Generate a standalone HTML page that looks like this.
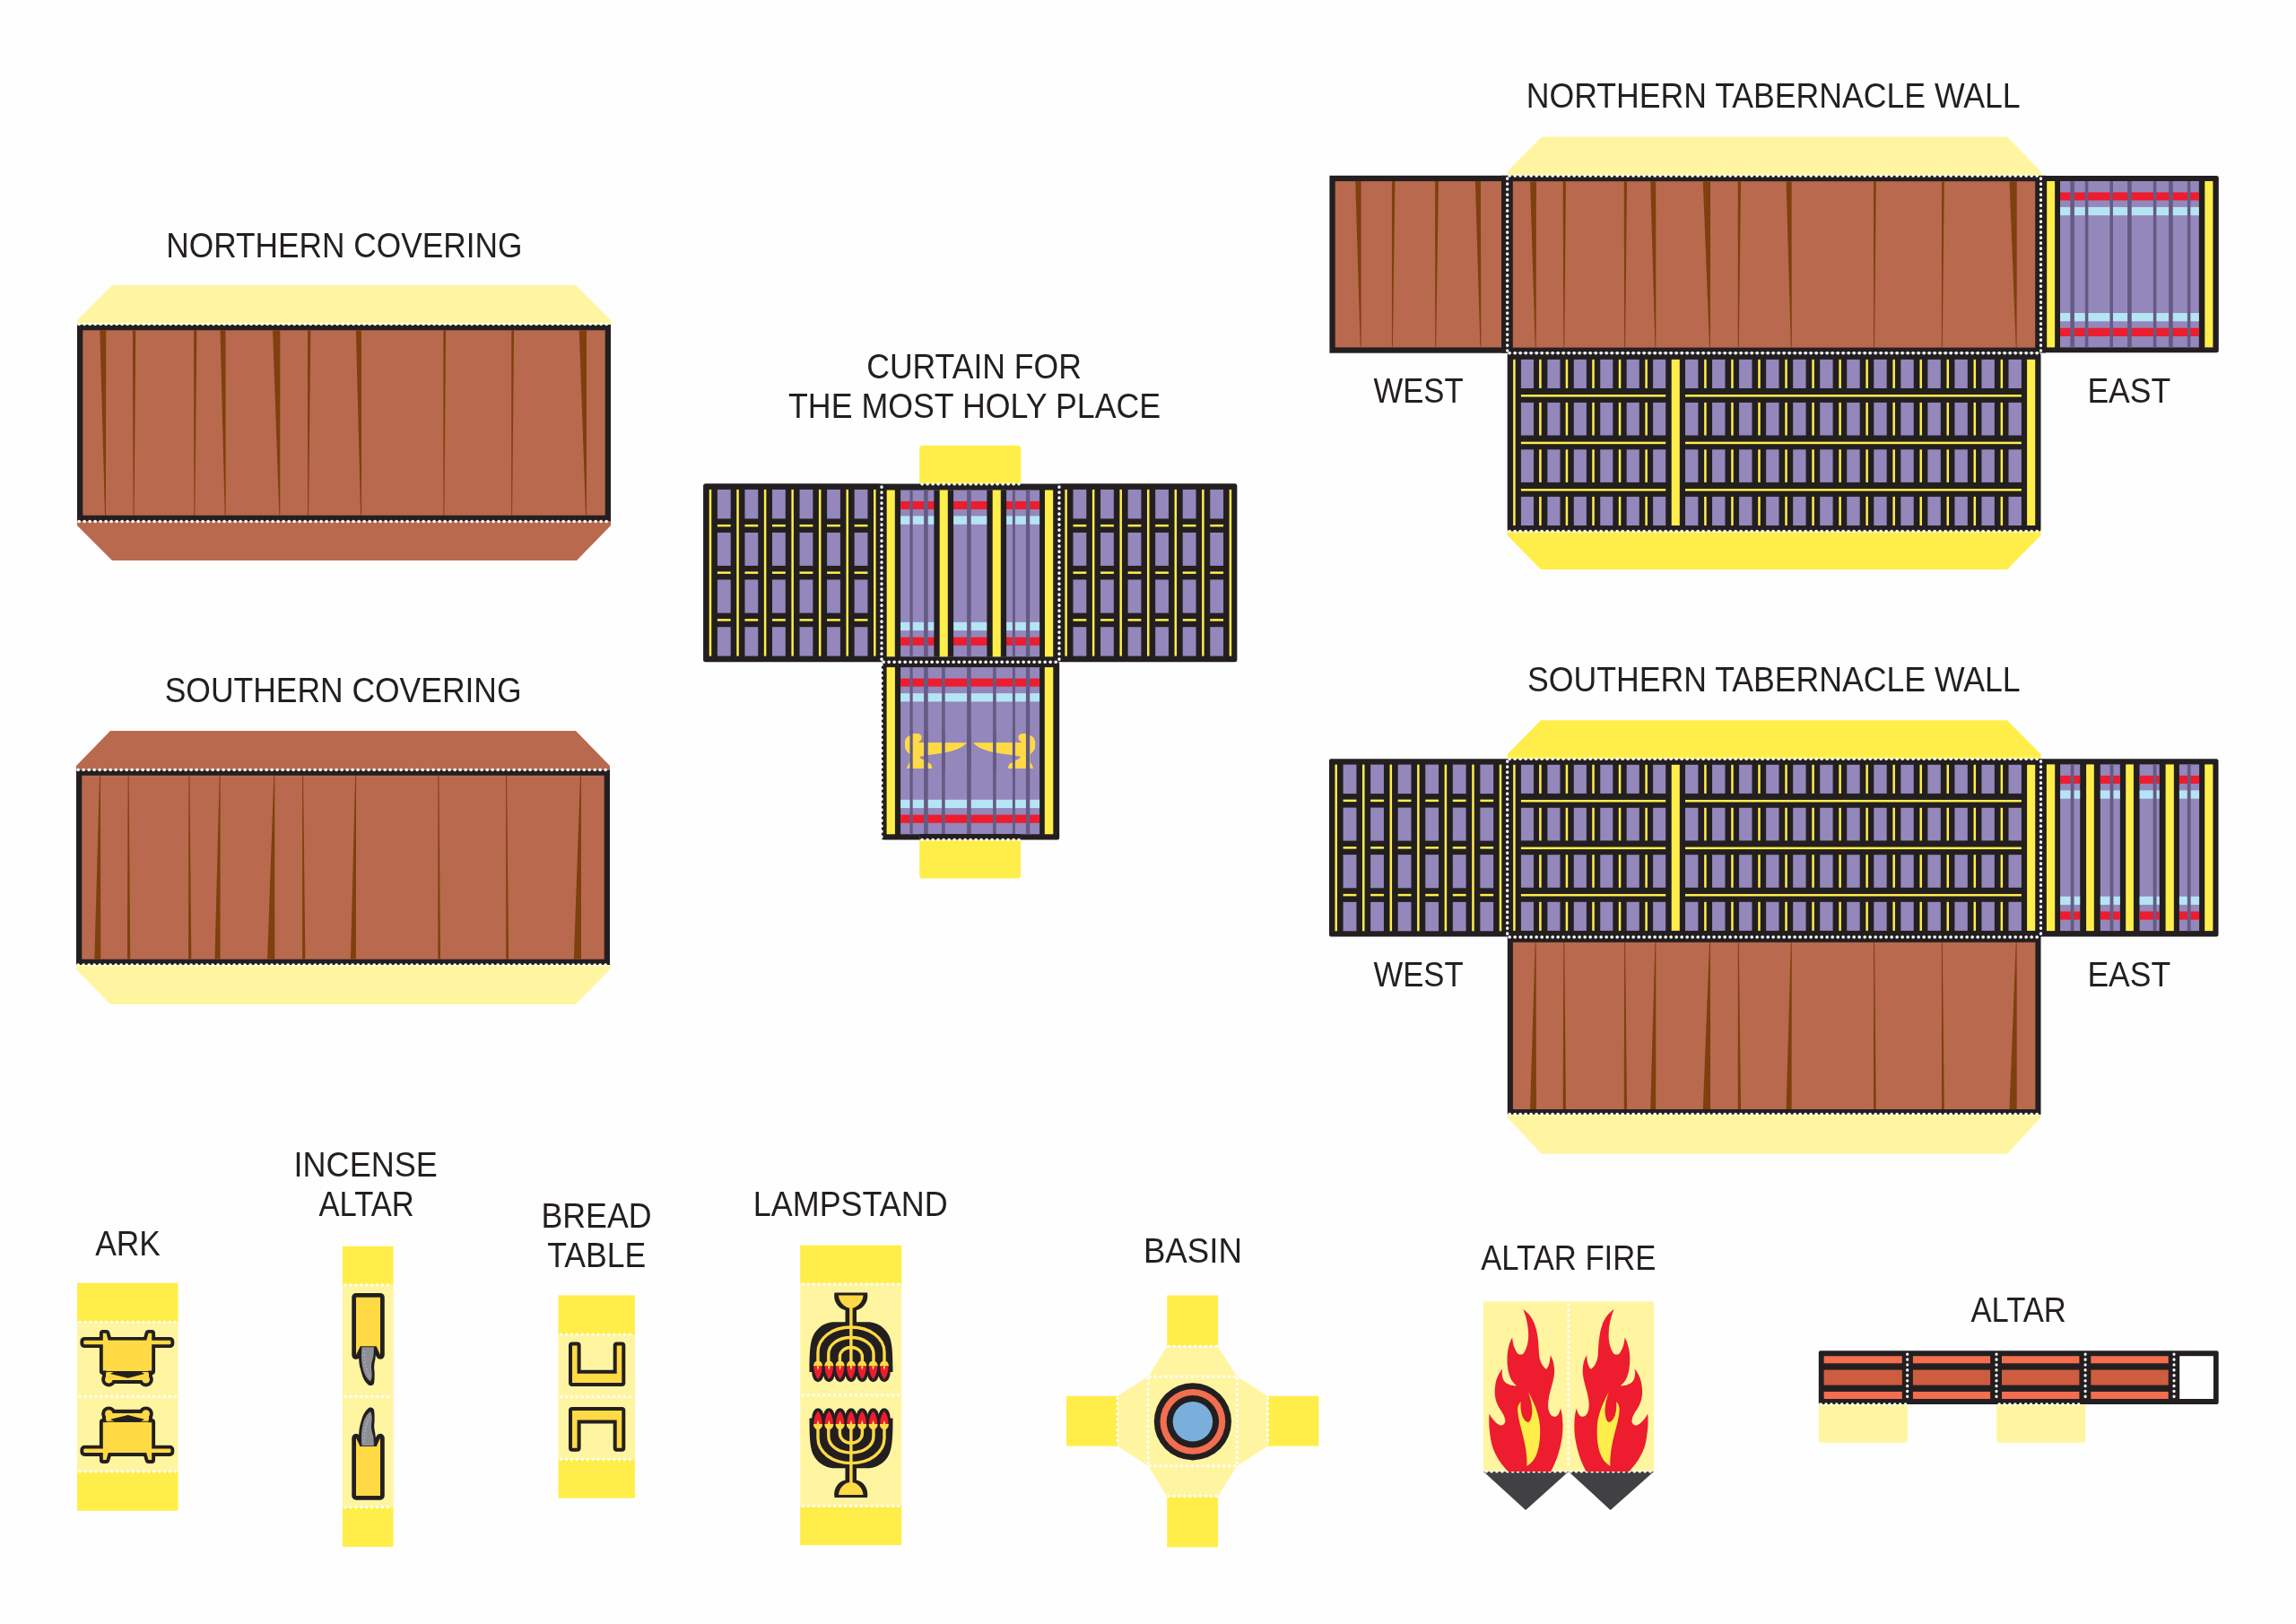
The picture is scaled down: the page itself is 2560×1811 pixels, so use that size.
<!DOCTYPE html>
<html><head><meta charset="utf-8"><style>
html,body{margin:0;padding:0;background:#fefefe;}
svg{display:block;}
text{font-family:"Liberation Sans",sans-serif;fill:#231f20;}
svg{will-change:transform;}
</style></head><body>
<svg width="2560" height="1811" viewBox="0 0 2560 1811">
<rect x="0" y="0" width="2560" height="1811" fill="#fefefe"/>
<text transform="translate(185.21,286.7) scale(0.9268,1)" font-size="38.08">NORTHERN COVERING</text>
<polygon points="86,362 86,357 125,318 642,318 681,357 681,362" fill="#fff5a1"/>
<polygon points="86,581 86,586 125,625 643,625 681,586 681,581" fill="#b8694e"/>
<rect x="86" y="362" width="595" height="219" fill="#231f20"/>
<rect x="92.3" y="368.3" width="582.4" height="206.4" fill="#b8694e"/>
<polygon points="111.35,368.3 118.25,368.3 117.95,574.7 117.05,574.7" fill="#7e400e"/>
<polygon points="147.95,368.3 151.25,368.3 149.55,574.7 148.65,574.7" fill="#7e400e"/>
<polygon points="216.05,368.3 219.35,368.3 217.35,574.7 216.45,574.7" fill="#7e400e"/>
<polygon points="245.5,368.3 251.5,368.3 251.65,574.7 250.75,574.7" fill="#7e400e"/>
<polygon points="304.1,368.3 312.3,368.3 312.25,574.7 311.35,574.7" fill="#7e400e"/>
<polygon points="343.05,368.3 346.35,368.3 344.05,574.7 343.15,574.7" fill="#7e400e"/>
<polygon points="396.9,368.3 402.9,368.3 403.05,574.7 402.15,574.7" fill="#7e400e"/>
<polygon points="494.35,368.3 497.05,368.3 495.35,574.7 494.45,574.7" fill="#7e400e"/>
<polygon points="570.35,368.3 573.05,368.3 571.05,574.7 570.15,574.7" fill="#7e400e"/>
<polygon points="645.8,368.3 654,368.3 653.95,574.7 653.05,574.7" fill="#7e400e"/>
<line x1="88" y1="361.5" x2="680" y2="361.5" stroke="#fff" stroke-width="3.4" stroke-linecap="round" stroke-dasharray="0.3 5.7"/>
<line x1="88" y1="581.5" x2="680" y2="581.5" stroke="#fff" stroke-width="3.4" stroke-linecap="round" stroke-dasharray="0.3 5.7"/>
<text transform="translate(183.7,783) scale(0.9311,1)" font-size="38.08">SOUTHERN COVERING</text>
<polygon points="85,858.5 85,854 123,815 642,815 680,854 680,858.5" fill="#b8694e"/>
<polygon points="85,1076 85,1081 123,1120 642,1120 680,1081 680,1076" fill="#fff5a1"/>
<rect x="85" y="858.5" width="595" height="217.5" fill="#231f20"/>
<rect x="91.3" y="864.8" width="582.4" height="204.9" fill="#b8694e"/>
<polygon points="105.35,1069.7 112.25,1069.7 111.95,864.8 111.05,864.8" fill="#7e400e"/>
<polygon points="141.95,1069.7 145.25,1069.7 143.55,864.8 142.65,864.8" fill="#7e400e"/>
<polygon points="210.05,1069.7 213.35,1069.7 211.35,864.8 210.45,864.8" fill="#7e400e"/>
<polygon points="239.5,1069.7 245.5,1069.7 245.65,864.8 244.75,864.8" fill="#7e400e"/>
<polygon points="298.1,1069.7 306.3,1069.7 306.25,864.8 305.35,864.8" fill="#7e400e"/>
<polygon points="337.05,1069.7 340.35,1069.7 338.05,864.8 337.15,864.8" fill="#7e400e"/>
<polygon points="390.9,1069.7 396.9,1069.7 397.05,864.8 396.15,864.8" fill="#7e400e"/>
<polygon points="488.35,1069.7 491.05,1069.7 489.35,864.8 488.45,864.8" fill="#7e400e"/>
<polygon points="564.35,1069.7 567.05,1069.7 565.05,864.8 564.15,864.8" fill="#7e400e"/>
<polygon points="639.8,1069.7 648,1069.7 647.95,864.8 647.05,864.8" fill="#7e400e"/>
<line x1="87" y1="858.5" x2="679" y2="858.5" stroke="#fff" stroke-width="3.4" stroke-linecap="round" stroke-dasharray="0.3 5.7"/>
<line x1="87" y1="1076" x2="679" y2="1076" stroke="#fff" stroke-width="3.4" stroke-linecap="round" stroke-dasharray="0.3 5.7"/>
<text transform="translate(966.22,421.6) scale(0.9342,1)" font-size="38.08">CURTAIN FOR</text>
<text transform="translate(879.01,465.5) scale(0.9390,1)" font-size="38.08">THE MOST HOLY PLACE</text>
<rect x="1025.2" y="496.8" width="113.1" height="48.2" fill="#ffee4a" rx="3.5"/>
<rect x="784.3" y="539.6" width="594.9" height="198.7" fill="#231f20" rx="2.5"/>
<rect x="784.3" y="539.6" width="198.3" height="198.3" fill="#231f20" rx="2"/>
<rect x="799.9" y="545.9" width="14.8" height="32.5" fill="#9387bb"/>
<rect x="799.9" y="593.9" width="14.8" height="37" fill="#9387bb"/>
<rect x="799.9" y="646.4" width="14.8" height="37.2" fill="#9387bb"/>
<rect x="799.9" y="699.2" width="14.8" height="32.4" fill="#9387bb"/>
<rect x="799.9" y="584.9" width="14.8" height="2.5" fill="#ffee4a"/>
<rect x="799.9" y="637.4" width="14.8" height="2.5" fill="#ffee4a"/>
<rect x="799.9" y="690.15" width="14.8" height="2.5" fill="#ffee4a"/>
<rect x="830.45" y="545.9" width="14.8" height="32.5" fill="#9387bb"/>
<rect x="830.45" y="593.9" width="14.8" height="37" fill="#9387bb"/>
<rect x="830.45" y="646.4" width="14.8" height="37.2" fill="#9387bb"/>
<rect x="830.45" y="699.2" width="14.8" height="32.4" fill="#9387bb"/>
<rect x="830.45" y="584.9" width="14.8" height="2.5" fill="#ffee4a"/>
<rect x="830.45" y="637.4" width="14.8" height="2.5" fill="#ffee4a"/>
<rect x="830.45" y="690.15" width="14.8" height="2.5" fill="#ffee4a"/>
<rect x="861" y="545.9" width="14.8" height="32.5" fill="#9387bb"/>
<rect x="861" y="593.9" width="14.8" height="37" fill="#9387bb"/>
<rect x="861" y="646.4" width="14.8" height="37.2" fill="#9387bb"/>
<rect x="861" y="699.2" width="14.8" height="32.4" fill="#9387bb"/>
<rect x="861" y="584.9" width="14.8" height="2.5" fill="#ffee4a"/>
<rect x="861" y="637.4" width="14.8" height="2.5" fill="#ffee4a"/>
<rect x="861" y="690.15" width="14.8" height="2.5" fill="#ffee4a"/>
<rect x="891.55" y="545.9" width="14.8" height="32.5" fill="#9387bb"/>
<rect x="891.55" y="593.9" width="14.8" height="37" fill="#9387bb"/>
<rect x="891.55" y="646.4" width="14.8" height="37.2" fill="#9387bb"/>
<rect x="891.55" y="699.2" width="14.8" height="32.4" fill="#9387bb"/>
<rect x="891.55" y="584.9" width="14.8" height="2.5" fill="#ffee4a"/>
<rect x="891.55" y="637.4" width="14.8" height="2.5" fill="#ffee4a"/>
<rect x="891.55" y="690.15" width="14.8" height="2.5" fill="#ffee4a"/>
<rect x="922.1" y="545.9" width="14.8" height="32.5" fill="#9387bb"/>
<rect x="922.1" y="593.9" width="14.8" height="37" fill="#9387bb"/>
<rect x="922.1" y="646.4" width="14.8" height="37.2" fill="#9387bb"/>
<rect x="922.1" y="699.2" width="14.8" height="32.4" fill="#9387bb"/>
<rect x="922.1" y="584.9" width="14.8" height="2.5" fill="#ffee4a"/>
<rect x="922.1" y="637.4" width="14.8" height="2.5" fill="#ffee4a"/>
<rect x="922.1" y="690.15" width="14.8" height="2.5" fill="#ffee4a"/>
<rect x="952.65" y="545.9" width="14.8" height="32.5" fill="#9387bb"/>
<rect x="952.65" y="593.9" width="14.8" height="37" fill="#9387bb"/>
<rect x="952.65" y="646.4" width="14.8" height="37.2" fill="#9387bb"/>
<rect x="952.65" y="699.2" width="14.8" height="32.4" fill="#9387bb"/>
<rect x="952.65" y="584.9" width="14.8" height="2.5" fill="#ffee4a"/>
<rect x="952.65" y="637.4" width="14.8" height="2.5" fill="#ffee4a"/>
<rect x="952.65" y="690.15" width="14.8" height="2.5" fill="#ffee4a"/>
<rect x="790.75" y="545.9" width="2.5" height="185.7" fill="#ffee4a"/>
<rect x="821.3" y="545.9" width="2.5" height="185.7" fill="#ffee4a"/>
<rect x="851.85" y="545.9" width="2.5" height="185.7" fill="#ffee4a"/>
<rect x="882.4" y="545.9" width="2.5" height="185.7" fill="#ffee4a"/>
<rect x="912.95" y="545.9" width="2.5" height="185.7" fill="#ffee4a"/>
<rect x="943.5" y="545.9" width="2.5" height="185.7" fill="#ffee4a"/>
<rect x="974.05" y="545.9" width="2.5" height="185.7" fill="#ffee4a"/>
<rect x="1180.9" y="539.6" width="198.3" height="198.3" fill="#231f20" rx="2"/>
<rect x="1196.5" y="545.9" width="14.8" height="32.5" fill="#9387bb"/>
<rect x="1196.5" y="593.9" width="14.8" height="37" fill="#9387bb"/>
<rect x="1196.5" y="646.4" width="14.8" height="37.2" fill="#9387bb"/>
<rect x="1196.5" y="699.2" width="14.8" height="32.4" fill="#9387bb"/>
<rect x="1196.5" y="584.9" width="14.8" height="2.5" fill="#ffee4a"/>
<rect x="1196.5" y="637.4" width="14.8" height="2.5" fill="#ffee4a"/>
<rect x="1196.5" y="690.15" width="14.8" height="2.5" fill="#ffee4a"/>
<rect x="1227.05" y="545.9" width="14.8" height="32.5" fill="#9387bb"/>
<rect x="1227.05" y="593.9" width="14.8" height="37" fill="#9387bb"/>
<rect x="1227.05" y="646.4" width="14.8" height="37.2" fill="#9387bb"/>
<rect x="1227.05" y="699.2" width="14.8" height="32.4" fill="#9387bb"/>
<rect x="1227.05" y="584.9" width="14.8" height="2.5" fill="#ffee4a"/>
<rect x="1227.05" y="637.4" width="14.8" height="2.5" fill="#ffee4a"/>
<rect x="1227.05" y="690.15" width="14.8" height="2.5" fill="#ffee4a"/>
<rect x="1257.6" y="545.9" width="14.8" height="32.5" fill="#9387bb"/>
<rect x="1257.6" y="593.9" width="14.8" height="37" fill="#9387bb"/>
<rect x="1257.6" y="646.4" width="14.8" height="37.2" fill="#9387bb"/>
<rect x="1257.6" y="699.2" width="14.8" height="32.4" fill="#9387bb"/>
<rect x="1257.6" y="584.9" width="14.8" height="2.5" fill="#ffee4a"/>
<rect x="1257.6" y="637.4" width="14.8" height="2.5" fill="#ffee4a"/>
<rect x="1257.6" y="690.15" width="14.8" height="2.5" fill="#ffee4a"/>
<rect x="1288.15" y="545.9" width="14.8" height="32.5" fill="#9387bb"/>
<rect x="1288.15" y="593.9" width="14.8" height="37" fill="#9387bb"/>
<rect x="1288.15" y="646.4" width="14.8" height="37.2" fill="#9387bb"/>
<rect x="1288.15" y="699.2" width="14.8" height="32.4" fill="#9387bb"/>
<rect x="1288.15" y="584.9" width="14.8" height="2.5" fill="#ffee4a"/>
<rect x="1288.15" y="637.4" width="14.8" height="2.5" fill="#ffee4a"/>
<rect x="1288.15" y="690.15" width="14.8" height="2.5" fill="#ffee4a"/>
<rect x="1318.7" y="545.9" width="14.8" height="32.5" fill="#9387bb"/>
<rect x="1318.7" y="593.9" width="14.8" height="37" fill="#9387bb"/>
<rect x="1318.7" y="646.4" width="14.8" height="37.2" fill="#9387bb"/>
<rect x="1318.7" y="699.2" width="14.8" height="32.4" fill="#9387bb"/>
<rect x="1318.7" y="584.9" width="14.8" height="2.5" fill="#ffee4a"/>
<rect x="1318.7" y="637.4" width="14.8" height="2.5" fill="#ffee4a"/>
<rect x="1318.7" y="690.15" width="14.8" height="2.5" fill="#ffee4a"/>
<rect x="1349.25" y="545.9" width="14.8" height="32.5" fill="#9387bb"/>
<rect x="1349.25" y="593.9" width="14.8" height="37" fill="#9387bb"/>
<rect x="1349.25" y="646.4" width="14.8" height="37.2" fill="#9387bb"/>
<rect x="1349.25" y="699.2" width="14.8" height="32.4" fill="#9387bb"/>
<rect x="1349.25" y="584.9" width="14.8" height="2.5" fill="#ffee4a"/>
<rect x="1349.25" y="637.4" width="14.8" height="2.5" fill="#ffee4a"/>
<rect x="1349.25" y="690.15" width="14.8" height="2.5" fill="#ffee4a"/>
<rect x="1187.35" y="545.9" width="2.5" height="185.7" fill="#ffee4a"/>
<rect x="1217.9" y="545.9" width="2.5" height="185.7" fill="#ffee4a"/>
<rect x="1248.45" y="545.9" width="2.5" height="185.7" fill="#ffee4a"/>
<rect x="1279" y="545.9" width="2.5" height="185.7" fill="#ffee4a"/>
<rect x="1309.55" y="545.9" width="2.5" height="185.7" fill="#ffee4a"/>
<rect x="1340.1" y="545.9" width="2.5" height="185.7" fill="#ffee4a"/>
<rect x="1370.65" y="545.9" width="2.5" height="185.7" fill="#ffee4a"/>
<rect x="1004.1" y="546.5" width="155" height="185.8" fill="#9387bb"/>
<rect x="1004.1" y="558.99" width="155" height="8.99" fill="#ed1c2e"/>
<rect x="1004.1" y="575.47" width="155" height="9.29" fill="#b5e4f5"/>
<rect x="1004.1" y="693.84" width="155" height="9.29" fill="#b5e4f5"/>
<rect x="1004.1" y="710.62" width="155" height="9.19" fill="#ed1c2e"/>
<rect x="1014.5" y="546.5" width="3.2" height="185.8" fill="#655a82"/>
<rect x="1030.1" y="546.5" width="4.6" height="185.8" fill="#655a82"/>
<rect x="1050.1" y="546.5" width="3.6" height="185.8" fill="#655a82"/>
<rect x="1078.1" y="546.5" width="4.6" height="185.8" fill="#655a82"/>
<rect x="1107.1" y="546.5" width="3.6" height="185.8" fill="#655a82"/>
<rect x="1128.9" y="546.5" width="3" height="185.8" fill="#655a82"/>
<rect x="1143.95" y="546.5" width="4.3" height="185.8" fill="#655a82"/>
<rect x="988.7" y="546.5" width="9.1" height="185.8" fill="#ffee4a"/>
<rect x="1041.4" y="546.5" width="21.7" height="185.8" fill="#231f20"/>
<rect x="1047.7" y="546.5" width="9.1" height="185.8" fill="#ffee4a"/>
<rect x="1100.4" y="546.5" width="21.7" height="185.8" fill="#231f20"/>
<rect x="1106.7" y="546.5" width="9.1" height="185.8" fill="#ffee4a"/>
<rect x="1165" y="546.5" width="9.2" height="185.8" fill="#ffee4a"/>
<rect x="982.9" y="738" width="198.3" height="198.4" fill="#231f20" rx="2.5"/>
<rect x="988.6" y="744.1" width="9.3" height="186.2" fill="#ffee4a"/>
<rect x="1164.8" y="744.1" width="9.5" height="186.2" fill="#ffee4a"/>
<rect x="1004.1" y="744.1" width="155" height="186.2" fill="#9387bb"/>
<rect x="1004.1" y="756.61" width="155" height="9.01" fill="#ed1c2e"/>
<rect x="1004.1" y="773.13" width="155" height="9.31" fill="#b5e4f5"/>
<rect x="1004.1" y="891.76" width="155" height="9.31" fill="#b5e4f5"/>
<rect x="1004.1" y="908.58" width="155" height="9.21" fill="#ed1c2e"/>
<rect x="1014.5" y="744.1" width="3.2" height="186.2" fill="#655a82"/>
<rect x="1030.1" y="744.1" width="4.6" height="186.2" fill="#655a82"/>
<rect x="1050.1" y="744.1" width="3.6" height="186.2" fill="#655a82"/>
<rect x="1078.1" y="744.1" width="4.6" height="186.2" fill="#655a82"/>
<rect x="1107.1" y="744.1" width="3.6" height="186.2" fill="#655a82"/>
<rect x="1128.9" y="744.1" width="3" height="186.2" fill="#655a82"/>
<rect x="1143.95" y="744.1" width="4.3" height="186.2" fill="#655a82"/>
<rect x="1025.2" y="930" width="112.9" height="49.5" fill="#ffee4a" rx="3.5"/>
<rect x="1025.2" y="930" width="112.9" height="6.4" fill="#231f20"/>
<path d="M1009,827.2 C1009.5,823 1011.5,821.5 1013.7,820.8 L1015,819.5 C1016,818.3 1017,818 1019,818 L1023.5,818 C1026.5,818.3 1027.8,820.5 1027.7,822.6 C1027.6,824.6 1026.8,825.8 1025.6,826.6 L1023.7,827.9 L1078,828.3 C1074,833.5 1066,836.5 1057,838.5 C1049,840.2 1040,841.4 1034.5,842 L1026.6,843.5 C1025.2,844.2 1025.3,845.2 1026.5,845.8 L1029.8,847.4 L1034.5,850.2 C1038,851.2 1039.3,853.5 1039.2,857.1 L1011.1,857.1 C1011.8,854 1012.8,851.5 1014.4,850.2 L1014.4,840.9 C1011.5,838.5 1009.2,836 1009,833.7 Z" fill="#ffda45"/>
<path d="M1009,827.2 C1009.5,823 1011.5,821.5 1013.7,820.8 L1015,819.5 C1016,818.3 1017,818 1019,818 L1023.5,818 C1026.5,818.3 1027.8,820.5 1027.7,822.6 C1027.6,824.6 1026.8,825.8 1025.6,826.6 L1023.7,827.9 L1078,828.3 C1074,833.5 1066,836.5 1057,838.5 C1049,840.2 1040,841.4 1034.5,842 L1026.6,843.5 C1025.2,844.2 1025.3,845.2 1026.5,845.8 L1029.8,847.4 L1034.5,850.2 C1038,851.2 1039.3,853.5 1039.2,857.1 L1011.1,857.1 C1011.8,854 1012.8,851.5 1014.4,850.2 L1014.4,840.9 C1011.5,838.5 1009.2,836 1009,833.7 Z" fill="#ffda45" transform="translate(2163.2,0) scale(-1,1)"/>
<rect x="1014.5" y="815" width="3.2" height="45" fill="#655a82"/>
<rect x="1030.1" y="815" width="4.6" height="45" fill="#655a82"/>
<rect x="1050.1" y="815" width="3.6" height="45" fill="#655a82"/>
<rect x="1078.1" y="815" width="4.6" height="45" fill="#655a82"/>
<rect x="1107.1" y="815" width="3.6" height="45" fill="#655a82"/>
<rect x="1128.9" y="815" width="3" height="45" fill="#655a82"/>
<rect x="1143.95" y="815" width="4.3" height="45" fill="#655a82"/>
<line x1="983" y1="543" x2="983" y2="936" stroke="#fff" stroke-width="3.4" stroke-linecap="round" stroke-dasharray="0.3 5.7"/>
<line x1="1181" y1="543" x2="1181" y2="736" stroke="#fff" stroke-width="3.4" stroke-linecap="round" stroke-dasharray="0.3 5.7"/>
<line x1="985" y1="738.3" x2="1179" y2="738.3" stroke="#fff" stroke-width="3.4" stroke-linecap="round" stroke-dasharray="0.3 5.7"/>
<line x1="1028" y1="539.8" x2="1136" y2="539.8" stroke="#fff" stroke-width="3.4" stroke-linecap="round" stroke-dasharray="0.3 5.7"/>
<line x1="1028" y1="936.4" x2="1136" y2="936.4" stroke="#fff" stroke-width="3.4" stroke-linecap="round" stroke-dasharray="0.3 5.7"/>
<text transform="translate(1701.78,120) scale(0.9359,1)" font-size="38.08">NORTHERN TABERNACLE WALL</text>
<polygon points="1680.7,197 1680.7,191 1719,152.5 2238,152.5 2275.5,191 2275.5,197" fill="#fff5a1"/>
<polygon points="1680.7,590 1680.7,597 1718,635 2238,635 2275.5,597 2275.5,590" fill="#ffee4a"/>
<rect x="1482.4" y="195.8" width="204.6" height="197.9" fill="#231f20"/>
<rect x="1488.7" y="202.1" width="192" height="185.3" fill="#b8694e"/>
<polygon points="1511.25,202.1 1517.55,202.1 1517.65,387.4 1516.75,387.4" fill="#7e400e"/>
<polygon points="1551.95,202.1 1555.45,202.1 1552.85,387.4 1551.95,387.4" fill="#7e400e"/>
<polygon points="1600.1,202.1 1603.9,202.1 1601.15,387.4 1600.25,387.4" fill="#7e400e"/>
<polygon points="1644.9,202.1 1650.9,202.1 1651.35,387.4 1650.45,387.4" fill="#7e400e"/>
<rect x="1674" y="195.8" width="607" height="197.7" fill="#231f20"/>
<rect x="1686.8" y="202.2" width="582.4" height="185.4" fill="#b8694e"/>
<polygon points="1706.05,202.2 1712.95,202.2 1712.65,387.6 1711.75,387.6" fill="#7e400e"/>
<polygon points="1742.65,202.2 1745.95,202.2 1744.25,387.6 1743.35,387.6" fill="#7e400e"/>
<polygon points="1810.75,202.2 1814.05,202.2 1812.05,387.6 1811.15,387.6" fill="#7e400e"/>
<polygon points="1840.2,202.2 1846.2,202.2 1846.35,387.6 1845.45,387.6" fill="#7e400e"/>
<polygon points="1898.8,202.2 1907,202.2 1906.95,387.6 1906.05,387.6" fill="#7e400e"/>
<polygon points="1937.75,202.2 1941.05,202.2 1938.75,387.6 1937.85,387.6" fill="#7e400e"/>
<polygon points="1991.6,202.2 1997.6,202.2 1997.75,387.6 1996.85,387.6" fill="#7e400e"/>
<polygon points="2089.05,202.2 2091.75,202.2 2090.05,387.6 2089.15,387.6" fill="#7e400e"/>
<polygon points="2165.05,202.2 2167.75,202.2 2165.75,387.6 2164.85,387.6" fill="#7e400e"/>
<polygon points="2240.5,202.2 2248.7,202.2 2248.65,387.6 2247.75,387.6" fill="#7e400e"/>
<rect x="2275" y="196" width="198.8" height="197.3" fill="#231f20" rx="2.5"/>
<rect x="2282.2" y="202" width="8.9" height="185.4" fill="#ffee4a"/>
<rect x="2458.3" y="202" width="9.1" height="185.4" fill="#ffee4a"/>
<rect x="2297" y="202" width="154.8" height="185.4" fill="#9387bb"/>
<rect x="2297" y="214.46" width="154.8" height="8.97" fill="#ed1c2e"/>
<rect x="2297" y="230.91" width="154.8" height="9.27" fill="#b5e4f5"/>
<rect x="2297" y="349.02" width="154.8" height="9.27" fill="#b5e4f5"/>
<rect x="2297" y="365.77" width="154.8" height="9.17" fill="#ed1c2e"/>
<rect x="2308.3" y="202" width="4.6" height="185.4" fill="#655a82"/>
<rect x="2324.85" y="202" width="3.5" height="185.4" fill="#655a82"/>
<rect x="2352.45" y="202" width="3.5" height="185.4" fill="#655a82"/>
<rect x="2372.1" y="202" width="4.6" height="185.4" fill="#655a82"/>
<rect x="2400.85" y="202" width="3.5" height="185.4" fill="#655a82"/>
<rect x="2418.1" y="202" width="4.6" height="185.4" fill="#655a82"/>
<rect x="2438.85" y="202" width="3.5" height="185.4" fill="#655a82"/>
<rect x="1680.7" y="393.5" width="594.8" height="199" fill="#231f20" rx="2.5"/>
<rect x="1687.15" y="400.9" width="2.5" height="185.1" fill="#ffee4a"/>
<rect x="1695.9" y="400.9" width="14.1" height="32.1" fill="#9387bb"/>
<rect x="1695.9" y="448.9" width="14.1" height="36.6" fill="#9387bb"/>
<rect x="1695.9" y="501.3" width="14.1" height="36.6" fill="#9387bb"/>
<rect x="1695.9" y="553.9" width="14.1" height="32.1" fill="#9387bb"/>
<rect x="1725.34" y="400.9" width="14.1" height="32.1" fill="#9387bb"/>
<rect x="1725.34" y="448.9" width="14.1" height="36.6" fill="#9387bb"/>
<rect x="1725.34" y="501.3" width="14.1" height="36.6" fill="#9387bb"/>
<rect x="1725.34" y="553.9" width="14.1" height="32.1" fill="#9387bb"/>
<rect x="1754.78" y="400.9" width="14.1" height="32.1" fill="#9387bb"/>
<rect x="1754.78" y="448.9" width="14.1" height="36.6" fill="#9387bb"/>
<rect x="1754.78" y="501.3" width="14.1" height="36.6" fill="#9387bb"/>
<rect x="1754.78" y="553.9" width="14.1" height="32.1" fill="#9387bb"/>
<rect x="1784.22" y="400.9" width="14.1" height="32.1" fill="#9387bb"/>
<rect x="1784.22" y="448.9" width="14.1" height="36.6" fill="#9387bb"/>
<rect x="1784.22" y="501.3" width="14.1" height="36.6" fill="#9387bb"/>
<rect x="1784.22" y="553.9" width="14.1" height="32.1" fill="#9387bb"/>
<rect x="1813.66" y="400.9" width="14.1" height="32.1" fill="#9387bb"/>
<rect x="1813.66" y="448.9" width="14.1" height="36.6" fill="#9387bb"/>
<rect x="1813.66" y="501.3" width="14.1" height="36.6" fill="#9387bb"/>
<rect x="1813.66" y="553.9" width="14.1" height="32.1" fill="#9387bb"/>
<rect x="1843.1" y="400.9" width="14.1" height="32.1" fill="#9387bb"/>
<rect x="1843.1" y="448.9" width="14.1" height="36.6" fill="#9387bb"/>
<rect x="1843.1" y="501.3" width="14.1" height="36.6" fill="#9387bb"/>
<rect x="1843.1" y="553.9" width="14.1" height="32.1" fill="#9387bb"/>
<rect x="1716.15" y="400.9" width="2.5" height="32.1" fill="#ffee4a"/>
<rect x="1716.15" y="448.9" width="2.5" height="36.6" fill="#ffee4a"/>
<rect x="1716.15" y="501.3" width="2.5" height="36.6" fill="#ffee4a"/>
<rect x="1716.15" y="553.9" width="2.5" height="32.1" fill="#ffee4a"/>
<rect x="1745.7" y="400.9" width="2.5" height="32.1" fill="#ffee4a"/>
<rect x="1745.7" y="448.9" width="2.5" height="36.6" fill="#ffee4a"/>
<rect x="1745.7" y="501.3" width="2.5" height="36.6" fill="#ffee4a"/>
<rect x="1745.7" y="553.9" width="2.5" height="32.1" fill="#ffee4a"/>
<rect x="1775.25" y="400.9" width="2.5" height="32.1" fill="#ffee4a"/>
<rect x="1775.25" y="448.9" width="2.5" height="36.6" fill="#ffee4a"/>
<rect x="1775.25" y="501.3" width="2.5" height="36.6" fill="#ffee4a"/>
<rect x="1775.25" y="553.9" width="2.5" height="32.1" fill="#ffee4a"/>
<rect x="1804.8" y="400.9" width="2.5" height="32.1" fill="#ffee4a"/>
<rect x="1804.8" y="448.9" width="2.5" height="36.6" fill="#ffee4a"/>
<rect x="1804.8" y="501.3" width="2.5" height="36.6" fill="#ffee4a"/>
<rect x="1804.8" y="553.9" width="2.5" height="32.1" fill="#ffee4a"/>
<rect x="1834.35" y="400.9" width="2.5" height="32.1" fill="#ffee4a"/>
<rect x="1834.35" y="448.9" width="2.5" height="36.6" fill="#ffee4a"/>
<rect x="1834.35" y="501.3" width="2.5" height="36.6" fill="#ffee4a"/>
<rect x="1834.35" y="553.9" width="2.5" height="32.1" fill="#ffee4a"/>
<rect x="1695.9" y="440.05" width="161.3" height="2.5" fill="#ffee4a"/>
<rect x="1695.9" y="492.65" width="161.3" height="2.5" fill="#ffee4a"/>
<rect x="1695.9" y="545.05" width="161.3" height="2.5" fill="#ffee4a"/>
<rect x="1863.7" y="400.9" width="9.1" height="185.1" fill="#ffee4a"/>
<rect x="1879" y="400.9" width="14.4" height="32.1" fill="#9387bb"/>
<rect x="1879" y="448.9" width="14.4" height="36.6" fill="#9387bb"/>
<rect x="1879" y="501.3" width="14.4" height="36.6" fill="#9387bb"/>
<rect x="1879" y="553.9" width="14.4" height="32.1" fill="#9387bb"/>
<rect x="1909.04" y="400.9" width="14.4" height="32.1" fill="#9387bb"/>
<rect x="1909.04" y="448.9" width="14.4" height="36.6" fill="#9387bb"/>
<rect x="1909.04" y="501.3" width="14.4" height="36.6" fill="#9387bb"/>
<rect x="1909.04" y="553.9" width="14.4" height="32.1" fill="#9387bb"/>
<rect x="1939.08" y="400.9" width="14.4" height="32.1" fill="#9387bb"/>
<rect x="1939.08" y="448.9" width="14.4" height="36.6" fill="#9387bb"/>
<rect x="1939.08" y="501.3" width="14.4" height="36.6" fill="#9387bb"/>
<rect x="1939.08" y="553.9" width="14.4" height="32.1" fill="#9387bb"/>
<rect x="1969.12" y="400.9" width="14.4" height="32.1" fill="#9387bb"/>
<rect x="1969.12" y="448.9" width="14.4" height="36.6" fill="#9387bb"/>
<rect x="1969.12" y="501.3" width="14.4" height="36.6" fill="#9387bb"/>
<rect x="1969.12" y="553.9" width="14.4" height="32.1" fill="#9387bb"/>
<rect x="1999.16" y="400.9" width="14.4" height="32.1" fill="#9387bb"/>
<rect x="1999.16" y="448.9" width="14.4" height="36.6" fill="#9387bb"/>
<rect x="1999.16" y="501.3" width="14.4" height="36.6" fill="#9387bb"/>
<rect x="1999.16" y="553.9" width="14.4" height="32.1" fill="#9387bb"/>
<rect x="2029.2" y="400.9" width="14.4" height="32.1" fill="#9387bb"/>
<rect x="2029.2" y="448.9" width="14.4" height="36.6" fill="#9387bb"/>
<rect x="2029.2" y="501.3" width="14.4" height="36.6" fill="#9387bb"/>
<rect x="2029.2" y="553.9" width="14.4" height="32.1" fill="#9387bb"/>
<rect x="2059.24" y="400.9" width="14.4" height="32.1" fill="#9387bb"/>
<rect x="2059.24" y="448.9" width="14.4" height="36.6" fill="#9387bb"/>
<rect x="2059.24" y="501.3" width="14.4" height="36.6" fill="#9387bb"/>
<rect x="2059.24" y="553.9" width="14.4" height="32.1" fill="#9387bb"/>
<rect x="2089.28" y="400.9" width="14.4" height="32.1" fill="#9387bb"/>
<rect x="2089.28" y="448.9" width="14.4" height="36.6" fill="#9387bb"/>
<rect x="2089.28" y="501.3" width="14.4" height="36.6" fill="#9387bb"/>
<rect x="2089.28" y="553.9" width="14.4" height="32.1" fill="#9387bb"/>
<rect x="2119.32" y="400.9" width="14.4" height="32.1" fill="#9387bb"/>
<rect x="2119.32" y="448.9" width="14.4" height="36.6" fill="#9387bb"/>
<rect x="2119.32" y="501.3" width="14.4" height="36.6" fill="#9387bb"/>
<rect x="2119.32" y="553.9" width="14.4" height="32.1" fill="#9387bb"/>
<rect x="2149.36" y="400.9" width="14.4" height="32.1" fill="#9387bb"/>
<rect x="2149.36" y="448.9" width="14.4" height="36.6" fill="#9387bb"/>
<rect x="2149.36" y="501.3" width="14.4" height="36.6" fill="#9387bb"/>
<rect x="2149.36" y="553.9" width="14.4" height="32.1" fill="#9387bb"/>
<rect x="2179.4" y="400.9" width="14.4" height="32.1" fill="#9387bb"/>
<rect x="2179.4" y="448.9" width="14.4" height="36.6" fill="#9387bb"/>
<rect x="2179.4" y="501.3" width="14.4" height="36.6" fill="#9387bb"/>
<rect x="2179.4" y="553.9" width="14.4" height="32.1" fill="#9387bb"/>
<rect x="2209.44" y="400.9" width="14.4" height="32.1" fill="#9387bb"/>
<rect x="2209.44" y="448.9" width="14.4" height="36.6" fill="#9387bb"/>
<rect x="2209.44" y="501.3" width="14.4" height="36.6" fill="#9387bb"/>
<rect x="2209.44" y="553.9" width="14.4" height="32.1" fill="#9387bb"/>
<rect x="2239.48" y="400.9" width="14.4" height="32.1" fill="#9387bb"/>
<rect x="2239.48" y="448.9" width="14.4" height="36.6" fill="#9387bb"/>
<rect x="2239.48" y="501.3" width="14.4" height="36.6" fill="#9387bb"/>
<rect x="2239.48" y="553.9" width="14.4" height="32.1" fill="#9387bb"/>
<rect x="1900.15" y="400.9" width="2.5" height="32.1" fill="#ffee4a"/>
<rect x="1900.15" y="448.9" width="2.5" height="36.6" fill="#ffee4a"/>
<rect x="1900.15" y="501.3" width="2.5" height="36.6" fill="#ffee4a"/>
<rect x="1900.15" y="553.9" width="2.5" height="32.1" fill="#ffee4a"/>
<rect x="1930.19" y="400.9" width="2.5" height="32.1" fill="#ffee4a"/>
<rect x="1930.19" y="448.9" width="2.5" height="36.6" fill="#ffee4a"/>
<rect x="1930.19" y="501.3" width="2.5" height="36.6" fill="#ffee4a"/>
<rect x="1930.19" y="553.9" width="2.5" height="32.1" fill="#ffee4a"/>
<rect x="1960.23" y="400.9" width="2.5" height="32.1" fill="#ffee4a"/>
<rect x="1960.23" y="448.9" width="2.5" height="36.6" fill="#ffee4a"/>
<rect x="1960.23" y="501.3" width="2.5" height="36.6" fill="#ffee4a"/>
<rect x="1960.23" y="553.9" width="2.5" height="32.1" fill="#ffee4a"/>
<rect x="1990.27" y="400.9" width="2.5" height="32.1" fill="#ffee4a"/>
<rect x="1990.27" y="448.9" width="2.5" height="36.6" fill="#ffee4a"/>
<rect x="1990.27" y="501.3" width="2.5" height="36.6" fill="#ffee4a"/>
<rect x="1990.27" y="553.9" width="2.5" height="32.1" fill="#ffee4a"/>
<rect x="2020.31" y="400.9" width="2.5" height="32.1" fill="#ffee4a"/>
<rect x="2020.31" y="448.9" width="2.5" height="36.6" fill="#ffee4a"/>
<rect x="2020.31" y="501.3" width="2.5" height="36.6" fill="#ffee4a"/>
<rect x="2020.31" y="553.9" width="2.5" height="32.1" fill="#ffee4a"/>
<rect x="2050.35" y="400.9" width="2.5" height="32.1" fill="#ffee4a"/>
<rect x="2050.35" y="448.9" width="2.5" height="36.6" fill="#ffee4a"/>
<rect x="2050.35" y="501.3" width="2.5" height="36.6" fill="#ffee4a"/>
<rect x="2050.35" y="553.9" width="2.5" height="32.1" fill="#ffee4a"/>
<rect x="2080.39" y="400.9" width="2.5" height="32.1" fill="#ffee4a"/>
<rect x="2080.39" y="448.9" width="2.5" height="36.6" fill="#ffee4a"/>
<rect x="2080.39" y="501.3" width="2.5" height="36.6" fill="#ffee4a"/>
<rect x="2080.39" y="553.9" width="2.5" height="32.1" fill="#ffee4a"/>
<rect x="2110.43" y="400.9" width="2.5" height="32.1" fill="#ffee4a"/>
<rect x="2110.43" y="448.9" width="2.5" height="36.6" fill="#ffee4a"/>
<rect x="2110.43" y="501.3" width="2.5" height="36.6" fill="#ffee4a"/>
<rect x="2110.43" y="553.9" width="2.5" height="32.1" fill="#ffee4a"/>
<rect x="2140.47" y="400.9" width="2.5" height="32.1" fill="#ffee4a"/>
<rect x="2140.47" y="448.9" width="2.5" height="36.6" fill="#ffee4a"/>
<rect x="2140.47" y="501.3" width="2.5" height="36.6" fill="#ffee4a"/>
<rect x="2140.47" y="553.9" width="2.5" height="32.1" fill="#ffee4a"/>
<rect x="2170.51" y="400.9" width="2.5" height="32.1" fill="#ffee4a"/>
<rect x="2170.51" y="448.9" width="2.5" height="36.6" fill="#ffee4a"/>
<rect x="2170.51" y="501.3" width="2.5" height="36.6" fill="#ffee4a"/>
<rect x="2170.51" y="553.9" width="2.5" height="32.1" fill="#ffee4a"/>
<rect x="2200.55" y="400.9" width="2.5" height="32.1" fill="#ffee4a"/>
<rect x="2200.55" y="448.9" width="2.5" height="36.6" fill="#ffee4a"/>
<rect x="2200.55" y="501.3" width="2.5" height="36.6" fill="#ffee4a"/>
<rect x="2200.55" y="553.9" width="2.5" height="32.1" fill="#ffee4a"/>
<rect x="2230.59" y="400.9" width="2.5" height="32.1" fill="#ffee4a"/>
<rect x="2230.59" y="448.9" width="2.5" height="36.6" fill="#ffee4a"/>
<rect x="2230.59" y="501.3" width="2.5" height="36.6" fill="#ffee4a"/>
<rect x="2230.59" y="553.9" width="2.5" height="32.1" fill="#ffee4a"/>
<rect x="1879" y="440.05" width="374.88" height="2.5" fill="#ffee4a"/>
<rect x="1879" y="492.65" width="374.88" height="2.5" fill="#ffee4a"/>
<rect x="1879" y="545.05" width="374.88" height="2.5" fill="#ffee4a"/>
<rect x="2260.1" y="400.9" width="9.1" height="185.1" fill="#ffee4a"/>
<line x1="1680.7" y1="199" x2="1680.7" y2="391" stroke="#fff" stroke-width="3.4" stroke-linecap="round" stroke-dasharray="0.3 5.7"/>
<line x1="2275.5" y1="199" x2="2275.5" y2="391" stroke="#fff" stroke-width="3.4" stroke-linecap="round" stroke-dasharray="0.3 5.7"/>
<line x1="1683" y1="196" x2="2273" y2="196" stroke="#fff" stroke-width="3.4" stroke-linecap="round" stroke-dasharray="0.3 5.7"/>
<line x1="1683" y1="393.7" x2="2273" y2="393.7" stroke="#fff" stroke-width="3.4" stroke-linecap="round" stroke-dasharray="0.3 5.7"/>
<line x1="1683" y1="592.5" x2="2273" y2="592.5" stroke="#fff" stroke-width="3.4" stroke-linecap="round" stroke-dasharray="0.3 5.7"/>
<text transform="translate(1531.46,449.2) scale(0.9102,1)" font-size="38.08">WEST</text>
<text transform="translate(2327.39,449.2) scale(0.9333,1)" font-size="38.08">EAST</text>
<text transform="translate(1703.1,771.4) scale(0.9359,1)" font-size="38.08">SOUTHERN TABERNACLE WALL</text>
<polygon points="1680.7,848 1680.7,841 1718,803.3 2238,803.3 2275.5,841 2275.5,848" fill="#ffee4a"/>
<polygon points="1680.7,1241 1680.7,1246 1719,1286.8 2238,1286.8 2275.5,1246 2275.5,1241" fill="#fff5a1"/>
<rect x="1482" y="846.3" width="205" height="198.2" fill="#231f20" rx="2"/>
<rect x="1497.6" y="852.6" width="14.8" height="32.5" fill="#9387bb"/>
<rect x="1497.6" y="900.6" width="14.8" height="37" fill="#9387bb"/>
<rect x="1497.6" y="953.1" width="14.8" height="37.2" fill="#9387bb"/>
<rect x="1497.6" y="1005.9" width="14.8" height="32.4" fill="#9387bb"/>
<rect x="1497.6" y="891.6" width="14.8" height="2.5" fill="#ffee4a"/>
<rect x="1497.6" y="944.1" width="14.8" height="2.5" fill="#ffee4a"/>
<rect x="1497.6" y="996.85" width="14.8" height="2.5" fill="#ffee4a"/>
<rect x="1528.15" y="852.6" width="14.8" height="32.5" fill="#9387bb"/>
<rect x="1528.15" y="900.6" width="14.8" height="37" fill="#9387bb"/>
<rect x="1528.15" y="953.1" width="14.8" height="37.2" fill="#9387bb"/>
<rect x="1528.15" y="1005.9" width="14.8" height="32.4" fill="#9387bb"/>
<rect x="1528.15" y="891.6" width="14.8" height="2.5" fill="#ffee4a"/>
<rect x="1528.15" y="944.1" width="14.8" height="2.5" fill="#ffee4a"/>
<rect x="1528.15" y="996.85" width="14.8" height="2.5" fill="#ffee4a"/>
<rect x="1558.7" y="852.6" width="14.8" height="32.5" fill="#9387bb"/>
<rect x="1558.7" y="900.6" width="14.8" height="37" fill="#9387bb"/>
<rect x="1558.7" y="953.1" width="14.8" height="37.2" fill="#9387bb"/>
<rect x="1558.7" y="1005.9" width="14.8" height="32.4" fill="#9387bb"/>
<rect x="1558.7" y="891.6" width="14.8" height="2.5" fill="#ffee4a"/>
<rect x="1558.7" y="944.1" width="14.8" height="2.5" fill="#ffee4a"/>
<rect x="1558.7" y="996.85" width="14.8" height="2.5" fill="#ffee4a"/>
<rect x="1589.25" y="852.6" width="14.8" height="32.5" fill="#9387bb"/>
<rect x="1589.25" y="900.6" width="14.8" height="37" fill="#9387bb"/>
<rect x="1589.25" y="953.1" width="14.8" height="37.2" fill="#9387bb"/>
<rect x="1589.25" y="1005.9" width="14.8" height="32.4" fill="#9387bb"/>
<rect x="1589.25" y="891.6" width="14.8" height="2.5" fill="#ffee4a"/>
<rect x="1589.25" y="944.1" width="14.8" height="2.5" fill="#ffee4a"/>
<rect x="1589.25" y="996.85" width="14.8" height="2.5" fill="#ffee4a"/>
<rect x="1619.8" y="852.6" width="14.8" height="32.5" fill="#9387bb"/>
<rect x="1619.8" y="900.6" width="14.8" height="37" fill="#9387bb"/>
<rect x="1619.8" y="953.1" width="14.8" height="37.2" fill="#9387bb"/>
<rect x="1619.8" y="1005.9" width="14.8" height="32.4" fill="#9387bb"/>
<rect x="1619.8" y="891.6" width="14.8" height="2.5" fill="#ffee4a"/>
<rect x="1619.8" y="944.1" width="14.8" height="2.5" fill="#ffee4a"/>
<rect x="1619.8" y="996.85" width="14.8" height="2.5" fill="#ffee4a"/>
<rect x="1650.35" y="852.6" width="14.8" height="32.5" fill="#9387bb"/>
<rect x="1650.35" y="900.6" width="14.8" height="37" fill="#9387bb"/>
<rect x="1650.35" y="953.1" width="14.8" height="37.2" fill="#9387bb"/>
<rect x="1650.35" y="1005.9" width="14.8" height="32.4" fill="#9387bb"/>
<rect x="1650.35" y="891.6" width="14.8" height="2.5" fill="#ffee4a"/>
<rect x="1650.35" y="944.1" width="14.8" height="2.5" fill="#ffee4a"/>
<rect x="1650.35" y="996.85" width="14.8" height="2.5" fill="#ffee4a"/>
<rect x="1488.45" y="852.6" width="2.5" height="185.7" fill="#ffee4a"/>
<rect x="1519" y="852.6" width="2.5" height="185.7" fill="#ffee4a"/>
<rect x="1549.55" y="852.6" width="2.5" height="185.7" fill="#ffee4a"/>
<rect x="1580.1" y="852.6" width="2.5" height="185.7" fill="#ffee4a"/>
<rect x="1610.65" y="852.6" width="2.5" height="185.7" fill="#ffee4a"/>
<rect x="1641.2" y="852.6" width="2.5" height="185.7" fill="#ffee4a"/>
<rect x="1671.75" y="852.6" width="2.5" height="185.7" fill="#ffee4a"/>
<rect x="1680.7" y="846.3" width="594.8" height="198.2" fill="#231f20"/>
<rect x="1687.15" y="852.8" width="2.5" height="185.1" fill="#ffee4a"/>
<rect x="1695.9" y="852.8" width="14.1" height="32.1" fill="#9387bb"/>
<rect x="1695.9" y="900.8" width="14.1" height="36.6" fill="#9387bb"/>
<rect x="1695.9" y="953.2" width="14.1" height="36.6" fill="#9387bb"/>
<rect x="1695.9" y="1005.8" width="14.1" height="32.1" fill="#9387bb"/>
<rect x="1725.34" y="852.8" width="14.1" height="32.1" fill="#9387bb"/>
<rect x="1725.34" y="900.8" width="14.1" height="36.6" fill="#9387bb"/>
<rect x="1725.34" y="953.2" width="14.1" height="36.6" fill="#9387bb"/>
<rect x="1725.34" y="1005.8" width="14.1" height="32.1" fill="#9387bb"/>
<rect x="1754.78" y="852.8" width="14.1" height="32.1" fill="#9387bb"/>
<rect x="1754.78" y="900.8" width="14.1" height="36.6" fill="#9387bb"/>
<rect x="1754.78" y="953.2" width="14.1" height="36.6" fill="#9387bb"/>
<rect x="1754.78" y="1005.8" width="14.1" height="32.1" fill="#9387bb"/>
<rect x="1784.22" y="852.8" width="14.1" height="32.1" fill="#9387bb"/>
<rect x="1784.22" y="900.8" width="14.1" height="36.6" fill="#9387bb"/>
<rect x="1784.22" y="953.2" width="14.1" height="36.6" fill="#9387bb"/>
<rect x="1784.22" y="1005.8" width="14.1" height="32.1" fill="#9387bb"/>
<rect x="1813.66" y="852.8" width="14.1" height="32.1" fill="#9387bb"/>
<rect x="1813.66" y="900.8" width="14.1" height="36.6" fill="#9387bb"/>
<rect x="1813.66" y="953.2" width="14.1" height="36.6" fill="#9387bb"/>
<rect x="1813.66" y="1005.8" width="14.1" height="32.1" fill="#9387bb"/>
<rect x="1843.1" y="852.8" width="14.1" height="32.1" fill="#9387bb"/>
<rect x="1843.1" y="900.8" width="14.1" height="36.6" fill="#9387bb"/>
<rect x="1843.1" y="953.2" width="14.1" height="36.6" fill="#9387bb"/>
<rect x="1843.1" y="1005.8" width="14.1" height="32.1" fill="#9387bb"/>
<rect x="1716.15" y="852.8" width="2.5" height="32.1" fill="#ffee4a"/>
<rect x="1716.15" y="900.8" width="2.5" height="36.6" fill="#ffee4a"/>
<rect x="1716.15" y="953.2" width="2.5" height="36.6" fill="#ffee4a"/>
<rect x="1716.15" y="1005.8" width="2.5" height="32.1" fill="#ffee4a"/>
<rect x="1745.7" y="852.8" width="2.5" height="32.1" fill="#ffee4a"/>
<rect x="1745.7" y="900.8" width="2.5" height="36.6" fill="#ffee4a"/>
<rect x="1745.7" y="953.2" width="2.5" height="36.6" fill="#ffee4a"/>
<rect x="1745.7" y="1005.8" width="2.5" height="32.1" fill="#ffee4a"/>
<rect x="1775.25" y="852.8" width="2.5" height="32.1" fill="#ffee4a"/>
<rect x="1775.25" y="900.8" width="2.5" height="36.6" fill="#ffee4a"/>
<rect x="1775.25" y="953.2" width="2.5" height="36.6" fill="#ffee4a"/>
<rect x="1775.25" y="1005.8" width="2.5" height="32.1" fill="#ffee4a"/>
<rect x="1804.8" y="852.8" width="2.5" height="32.1" fill="#ffee4a"/>
<rect x="1804.8" y="900.8" width="2.5" height="36.6" fill="#ffee4a"/>
<rect x="1804.8" y="953.2" width="2.5" height="36.6" fill="#ffee4a"/>
<rect x="1804.8" y="1005.8" width="2.5" height="32.1" fill="#ffee4a"/>
<rect x="1834.35" y="852.8" width="2.5" height="32.1" fill="#ffee4a"/>
<rect x="1834.35" y="900.8" width="2.5" height="36.6" fill="#ffee4a"/>
<rect x="1834.35" y="953.2" width="2.5" height="36.6" fill="#ffee4a"/>
<rect x="1834.35" y="1005.8" width="2.5" height="32.1" fill="#ffee4a"/>
<rect x="1695.9" y="891.95" width="161.3" height="2.5" fill="#ffee4a"/>
<rect x="1695.9" y="944.55" width="161.3" height="2.5" fill="#ffee4a"/>
<rect x="1695.9" y="996.95" width="161.3" height="2.5" fill="#ffee4a"/>
<rect x="1863.7" y="852.8" width="9.1" height="185.1" fill="#ffee4a"/>
<rect x="1879" y="852.8" width="14.4" height="32.1" fill="#9387bb"/>
<rect x="1879" y="900.8" width="14.4" height="36.6" fill="#9387bb"/>
<rect x="1879" y="953.2" width="14.4" height="36.6" fill="#9387bb"/>
<rect x="1879" y="1005.8" width="14.4" height="32.1" fill="#9387bb"/>
<rect x="1909.04" y="852.8" width="14.4" height="32.1" fill="#9387bb"/>
<rect x="1909.04" y="900.8" width="14.4" height="36.6" fill="#9387bb"/>
<rect x="1909.04" y="953.2" width="14.4" height="36.6" fill="#9387bb"/>
<rect x="1909.04" y="1005.8" width="14.4" height="32.1" fill="#9387bb"/>
<rect x="1939.08" y="852.8" width="14.4" height="32.1" fill="#9387bb"/>
<rect x="1939.08" y="900.8" width="14.4" height="36.6" fill="#9387bb"/>
<rect x="1939.08" y="953.2" width="14.4" height="36.6" fill="#9387bb"/>
<rect x="1939.08" y="1005.8" width="14.4" height="32.1" fill="#9387bb"/>
<rect x="1969.12" y="852.8" width="14.4" height="32.1" fill="#9387bb"/>
<rect x="1969.12" y="900.8" width="14.4" height="36.6" fill="#9387bb"/>
<rect x="1969.12" y="953.2" width="14.4" height="36.6" fill="#9387bb"/>
<rect x="1969.12" y="1005.8" width="14.4" height="32.1" fill="#9387bb"/>
<rect x="1999.16" y="852.8" width="14.4" height="32.1" fill="#9387bb"/>
<rect x="1999.16" y="900.8" width="14.4" height="36.6" fill="#9387bb"/>
<rect x="1999.16" y="953.2" width="14.4" height="36.6" fill="#9387bb"/>
<rect x="1999.16" y="1005.8" width="14.4" height="32.1" fill="#9387bb"/>
<rect x="2029.2" y="852.8" width="14.4" height="32.1" fill="#9387bb"/>
<rect x="2029.2" y="900.8" width="14.4" height="36.6" fill="#9387bb"/>
<rect x="2029.2" y="953.2" width="14.4" height="36.6" fill="#9387bb"/>
<rect x="2029.2" y="1005.8" width="14.4" height="32.1" fill="#9387bb"/>
<rect x="2059.24" y="852.8" width="14.4" height="32.1" fill="#9387bb"/>
<rect x="2059.24" y="900.8" width="14.4" height="36.6" fill="#9387bb"/>
<rect x="2059.24" y="953.2" width="14.4" height="36.6" fill="#9387bb"/>
<rect x="2059.24" y="1005.8" width="14.4" height="32.1" fill="#9387bb"/>
<rect x="2089.28" y="852.8" width="14.4" height="32.1" fill="#9387bb"/>
<rect x="2089.28" y="900.8" width="14.4" height="36.6" fill="#9387bb"/>
<rect x="2089.28" y="953.2" width="14.4" height="36.6" fill="#9387bb"/>
<rect x="2089.28" y="1005.8" width="14.4" height="32.1" fill="#9387bb"/>
<rect x="2119.32" y="852.8" width="14.4" height="32.1" fill="#9387bb"/>
<rect x="2119.32" y="900.8" width="14.4" height="36.6" fill="#9387bb"/>
<rect x="2119.32" y="953.2" width="14.4" height="36.6" fill="#9387bb"/>
<rect x="2119.32" y="1005.8" width="14.4" height="32.1" fill="#9387bb"/>
<rect x="2149.36" y="852.8" width="14.4" height="32.1" fill="#9387bb"/>
<rect x="2149.36" y="900.8" width="14.4" height="36.6" fill="#9387bb"/>
<rect x="2149.36" y="953.2" width="14.4" height="36.6" fill="#9387bb"/>
<rect x="2149.36" y="1005.8" width="14.4" height="32.1" fill="#9387bb"/>
<rect x="2179.4" y="852.8" width="14.4" height="32.1" fill="#9387bb"/>
<rect x="2179.4" y="900.8" width="14.4" height="36.6" fill="#9387bb"/>
<rect x="2179.4" y="953.2" width="14.4" height="36.6" fill="#9387bb"/>
<rect x="2179.4" y="1005.8" width="14.4" height="32.1" fill="#9387bb"/>
<rect x="2209.44" y="852.8" width="14.4" height="32.1" fill="#9387bb"/>
<rect x="2209.44" y="900.8" width="14.4" height="36.6" fill="#9387bb"/>
<rect x="2209.44" y="953.2" width="14.4" height="36.6" fill="#9387bb"/>
<rect x="2209.44" y="1005.8" width="14.4" height="32.1" fill="#9387bb"/>
<rect x="2239.48" y="852.8" width="14.4" height="32.1" fill="#9387bb"/>
<rect x="2239.48" y="900.8" width="14.4" height="36.6" fill="#9387bb"/>
<rect x="2239.48" y="953.2" width="14.4" height="36.6" fill="#9387bb"/>
<rect x="2239.48" y="1005.8" width="14.4" height="32.1" fill="#9387bb"/>
<rect x="1900.15" y="852.8" width="2.5" height="32.1" fill="#ffee4a"/>
<rect x="1900.15" y="900.8" width="2.5" height="36.6" fill="#ffee4a"/>
<rect x="1900.15" y="953.2" width="2.5" height="36.6" fill="#ffee4a"/>
<rect x="1900.15" y="1005.8" width="2.5" height="32.1" fill="#ffee4a"/>
<rect x="1930.19" y="852.8" width="2.5" height="32.1" fill="#ffee4a"/>
<rect x="1930.19" y="900.8" width="2.5" height="36.6" fill="#ffee4a"/>
<rect x="1930.19" y="953.2" width="2.5" height="36.6" fill="#ffee4a"/>
<rect x="1930.19" y="1005.8" width="2.5" height="32.1" fill="#ffee4a"/>
<rect x="1960.23" y="852.8" width="2.5" height="32.1" fill="#ffee4a"/>
<rect x="1960.23" y="900.8" width="2.5" height="36.6" fill="#ffee4a"/>
<rect x="1960.23" y="953.2" width="2.5" height="36.6" fill="#ffee4a"/>
<rect x="1960.23" y="1005.8" width="2.5" height="32.1" fill="#ffee4a"/>
<rect x="1990.27" y="852.8" width="2.5" height="32.1" fill="#ffee4a"/>
<rect x="1990.27" y="900.8" width="2.5" height="36.6" fill="#ffee4a"/>
<rect x="1990.27" y="953.2" width="2.5" height="36.6" fill="#ffee4a"/>
<rect x="1990.27" y="1005.8" width="2.5" height="32.1" fill="#ffee4a"/>
<rect x="2020.31" y="852.8" width="2.5" height="32.1" fill="#ffee4a"/>
<rect x="2020.31" y="900.8" width="2.5" height="36.6" fill="#ffee4a"/>
<rect x="2020.31" y="953.2" width="2.5" height="36.6" fill="#ffee4a"/>
<rect x="2020.31" y="1005.8" width="2.5" height="32.1" fill="#ffee4a"/>
<rect x="2050.35" y="852.8" width="2.5" height="32.1" fill="#ffee4a"/>
<rect x="2050.35" y="900.8" width="2.5" height="36.6" fill="#ffee4a"/>
<rect x="2050.35" y="953.2" width="2.5" height="36.6" fill="#ffee4a"/>
<rect x="2050.35" y="1005.8" width="2.5" height="32.1" fill="#ffee4a"/>
<rect x="2080.39" y="852.8" width="2.5" height="32.1" fill="#ffee4a"/>
<rect x="2080.39" y="900.8" width="2.5" height="36.6" fill="#ffee4a"/>
<rect x="2080.39" y="953.2" width="2.5" height="36.6" fill="#ffee4a"/>
<rect x="2080.39" y="1005.8" width="2.5" height="32.1" fill="#ffee4a"/>
<rect x="2110.43" y="852.8" width="2.5" height="32.1" fill="#ffee4a"/>
<rect x="2110.43" y="900.8" width="2.5" height="36.6" fill="#ffee4a"/>
<rect x="2110.43" y="953.2" width="2.5" height="36.6" fill="#ffee4a"/>
<rect x="2110.43" y="1005.8" width="2.5" height="32.1" fill="#ffee4a"/>
<rect x="2140.47" y="852.8" width="2.5" height="32.1" fill="#ffee4a"/>
<rect x="2140.47" y="900.8" width="2.5" height="36.6" fill="#ffee4a"/>
<rect x="2140.47" y="953.2" width="2.5" height="36.6" fill="#ffee4a"/>
<rect x="2140.47" y="1005.8" width="2.5" height="32.1" fill="#ffee4a"/>
<rect x="2170.51" y="852.8" width="2.5" height="32.1" fill="#ffee4a"/>
<rect x="2170.51" y="900.8" width="2.5" height="36.6" fill="#ffee4a"/>
<rect x="2170.51" y="953.2" width="2.5" height="36.6" fill="#ffee4a"/>
<rect x="2170.51" y="1005.8" width="2.5" height="32.1" fill="#ffee4a"/>
<rect x="2200.55" y="852.8" width="2.5" height="32.1" fill="#ffee4a"/>
<rect x="2200.55" y="900.8" width="2.5" height="36.6" fill="#ffee4a"/>
<rect x="2200.55" y="953.2" width="2.5" height="36.6" fill="#ffee4a"/>
<rect x="2200.55" y="1005.8" width="2.5" height="32.1" fill="#ffee4a"/>
<rect x="2230.59" y="852.8" width="2.5" height="32.1" fill="#ffee4a"/>
<rect x="2230.59" y="900.8" width="2.5" height="36.6" fill="#ffee4a"/>
<rect x="2230.59" y="953.2" width="2.5" height="36.6" fill="#ffee4a"/>
<rect x="2230.59" y="1005.8" width="2.5" height="32.1" fill="#ffee4a"/>
<rect x="1879" y="891.95" width="374.88" height="2.5" fill="#ffee4a"/>
<rect x="1879" y="944.55" width="374.88" height="2.5" fill="#ffee4a"/>
<rect x="1879" y="996.95" width="374.88" height="2.5" fill="#ffee4a"/>
<rect x="2260.1" y="852.8" width="9.1" height="185.1" fill="#ffee4a"/>
<rect x="2270" y="846.3" width="203.5" height="198.2" fill="#231f20" rx="2.5"/>
<rect x="2281.9" y="852.4" width="9.3" height="185.7" fill="#ffee4a"/>
<rect x="2326.1" y="852.4" width="8.7" height="185.7" fill="#ffee4a"/>
<rect x="2370.2" y="852.4" width="8.7" height="185.7" fill="#ffee4a"/>
<rect x="2414.6" y="852.4" width="9.2" height="185.7" fill="#ffee4a"/>
<rect x="2458.2" y="852.4" width="9.2" height="185.7" fill="#ffee4a"/>
<rect x="2297.1" y="852.4" width="22.1" height="185.7" fill="#9387bb"/>
<rect x="2297.1" y="864.88" width="22.1" height="8.99" fill="#ed1c2e"/>
<rect x="2297.1" y="881.35" width="22.1" height="9.28" fill="#b5e4f5"/>
<rect x="2297.1" y="999.66" width="22.1" height="9.28" fill="#b5e4f5"/>
<rect x="2297.1" y="1016.43" width="22.1" height="9.19" fill="#ed1c2e"/>
<rect x="2308.7" y="852.4" width="3.8" height="185.7" fill="#655a82"/>
<rect x="2341.8" y="852.4" width="22" height="185.7" fill="#9387bb"/>
<rect x="2341.8" y="864.88" width="22" height="8.99" fill="#ed1c2e"/>
<rect x="2341.8" y="881.35" width="22" height="9.28" fill="#b5e4f5"/>
<rect x="2341.8" y="999.66" width="22" height="9.28" fill="#b5e4f5"/>
<rect x="2341.8" y="1016.43" width="22" height="9.19" fill="#ed1c2e"/>
<rect x="2352.6" y="852.4" width="3.8" height="185.7" fill="#655a82"/>
<rect x="2385.6" y="852.4" width="22.1" height="185.7" fill="#9387bb"/>
<rect x="2385.6" y="864.88" width="22.1" height="8.99" fill="#ed1c2e"/>
<rect x="2385.6" y="881.35" width="22.1" height="9.28" fill="#b5e4f5"/>
<rect x="2385.6" y="999.66" width="22.1" height="9.28" fill="#b5e4f5"/>
<rect x="2385.6" y="1016.43" width="22.1" height="9.19" fill="#ed1c2e"/>
<rect x="2400.7" y="852.4" width="3.8" height="185.7" fill="#655a82"/>
<rect x="2429.9" y="852.4" width="22.2" height="185.7" fill="#9387bb"/>
<rect x="2429.9" y="864.88" width="22.2" height="8.99" fill="#ed1c2e"/>
<rect x="2429.9" y="881.35" width="22.2" height="9.28" fill="#b5e4f5"/>
<rect x="2429.9" y="999.66" width="22.2" height="9.28" fill="#b5e4f5"/>
<rect x="2429.9" y="1016.43" width="22.2" height="9.19" fill="#ed1c2e"/>
<rect x="2438.8" y="852.4" width="3.8" height="185.7" fill="#655a82"/>
<rect x="1680.8" y="1044" width="594.7" height="198.8" fill="#231f20"/>
<rect x="1686.9" y="1050.8" width="582.5" height="186.2" fill="#b8694e"/>
<polygon points="1706.05,1237 1712.95,1237 1712.65,1050.8 1711.75,1050.8" fill="#7e400e"/>
<polygon points="1742.65,1237 1745.95,1237 1744.25,1050.8 1743.35,1050.8" fill="#7e400e"/>
<polygon points="1810.75,1237 1814.05,1237 1812.05,1050.8 1811.15,1050.8" fill="#7e400e"/>
<polygon points="1840.2,1237 1846.2,1237 1846.35,1050.8 1845.45,1050.8" fill="#7e400e"/>
<polygon points="1898.8,1237 1907,1237 1906.95,1050.8 1906.05,1050.8" fill="#7e400e"/>
<polygon points="1937.75,1237 1941.05,1237 1938.75,1050.8 1937.85,1050.8" fill="#7e400e"/>
<polygon points="1991.6,1237 1997.6,1237 1997.75,1050.8 1996.85,1050.8" fill="#7e400e"/>
<polygon points="2089.05,1237 2091.75,1237 2090.05,1050.8 2089.15,1050.8" fill="#7e400e"/>
<polygon points="2165.05,1237 2167.75,1237 2165.75,1050.8 2164.85,1050.8" fill="#7e400e"/>
<polygon points="2240.5,1237 2248.7,1237 2248.65,1050.8 2247.75,1050.8" fill="#7e400e"/>
<line x1="1680.7" y1="849" x2="1680.7" y2="1042" stroke="#fff" stroke-width="3.4" stroke-linecap="round" stroke-dasharray="0.3 5.7"/>
<line x1="2275.5" y1="849" x2="2275.5" y2="1042" stroke="#fff" stroke-width="3.4" stroke-linecap="round" stroke-dasharray="0.3 5.7"/>
<line x1="1683" y1="846.3" x2="2273" y2="846.3" stroke="#fff" stroke-width="3.4" stroke-linecap="round" stroke-dasharray="0.3 5.7"/>
<line x1="1683" y1="1045" x2="2273" y2="1045" stroke="#fff" stroke-width="3.4" stroke-linecap="round" stroke-dasharray="0.3 5.7"/>
<line x1="1683" y1="1242.5" x2="2273" y2="1242.5" stroke="#fff" stroke-width="3.4" stroke-linecap="round" stroke-dasharray="0.3 5.7"/>
<text transform="translate(1531.46,1100.1) scale(0.9102,1)" font-size="38.08">WEST</text>
<text transform="translate(2327.39,1100.1) scale(0.9333,1)" font-size="38.08">EAST</text>
<text transform="translate(106.13,1400) scale(0.9293,1)" font-size="38.08">ARK</text>
<rect x="86" y="1430.7" width="112.6" height="43.6" fill="#ffee4a"/>
<rect x="86" y="1474.3" width="112.6" height="166.7" fill="#fff5a1"/>
<rect x="86" y="1641" width="112.6" height="43.7" fill="#ffee4a"/>
<line x1="89" y1="1474.3" x2="195.6" y2="1474.3" stroke="#fff" stroke-width="3.2" stroke-linecap="round" stroke-dasharray="0.3 5.6"/>
<line x1="89" y1="1557.4" x2="195.6" y2="1557.4" stroke="#fff" stroke-width="3.2" stroke-linecap="round" stroke-dasharray="0.3 5.6"/>
<line x1="89" y1="1641" x2="195.6" y2="1641" stroke="#fff" stroke-width="3.2" stroke-linecap="round" stroke-dasharray="0.3 5.6"/>
<g>
<g fill="#231f20" stroke="#231f20" stroke-width="7.8" stroke-linejoin="round"><rect x="93.3" y="1494.8" width="97.1" height="4.4" rx="1"/><rect x="114.8" y="1494.8" width="54.4" height="34.2"/><polygon points="114.8,1486.8 118.5,1486.8 120.8,1494.9 114.8,1494.9"/><polygon points="169.2,1486.8 165.5,1486.8 163.2,1494.9 169.2,1494.9"/><rect x="118" y="1530" width="48" height="9"/><circle cx="121.3" cy="1538.2" r="4.3"/><circle cx="162.7" cy="1538.2" r="4.3"/></g>
<g fill="#ffda45"><rect x="93.3" y="1494.8" width="97.1" height="4.4" rx="1"/><rect x="114.8" y="1494.8" width="54.4" height="34.2"/><polygon points="114.8,1486.8 118.5,1486.8 120.8,1494.9 114.8,1494.9"/><polygon points="169.2,1486.8 165.5,1486.8 163.2,1494.9 169.2,1494.9"/><rect x="118" y="1530" width="48" height="9"/><circle cx="121.3" cy="1538.2" r="4.3"/><circle cx="162.7" cy="1538.2" r="4.3"/></g>
<polygon points="123.1,1532.1 128.4,1529 155.8,1529 161.1,1532.1 142.6,1536.8" fill="#231f20"/>
<rect x="126" y="1539" width="32" height="4" fill="#231f20"/>
<polygon points="114,1528.5 118.5,1528.5 118.5,1531.5 115.5,1533" fill="#231f20"/>
<polygon points="170,1528.5 165.5,1528.5 165.5,1531.5 168.5,1533" fill="#231f20"/>
</g>
<g transform="translate(0,3114.8) scale(1,-1)">
<g fill="#231f20" stroke="#231f20" stroke-width="7.8" stroke-linejoin="round"><rect x="93.3" y="1494.8" width="97.1" height="4.4" rx="1"/><rect x="114.8" y="1494.8" width="54.4" height="34.2"/><polygon points="114.8,1486.8 118.5,1486.8 120.8,1494.9 114.8,1494.9"/><polygon points="169.2,1486.8 165.5,1486.8 163.2,1494.9 169.2,1494.9"/><rect x="118" y="1530" width="48" height="9"/><circle cx="121.3" cy="1538.2" r="4.3"/><circle cx="162.7" cy="1538.2" r="4.3"/></g>
<g fill="#ffda45"><rect x="93.3" y="1494.8" width="97.1" height="4.4" rx="1"/><rect x="114.8" y="1494.8" width="54.4" height="34.2"/><polygon points="114.8,1486.8 118.5,1486.8 120.8,1494.9 114.8,1494.9"/><polygon points="169.2,1486.8 165.5,1486.8 163.2,1494.9 169.2,1494.9"/><rect x="118" y="1530" width="48" height="9"/><circle cx="121.3" cy="1538.2" r="4.3"/><circle cx="162.7" cy="1538.2" r="4.3"/></g>
<polygon points="123.1,1532.1 128.4,1529 155.8,1529 161.1,1532.1 142.6,1536.8" fill="#231f20"/>
<rect x="126" y="1539" width="32" height="4" fill="#231f20"/>
<polygon points="114,1528.5 118.5,1528.5 118.5,1531.5 115.5,1533" fill="#231f20"/>
<polygon points="170,1528.5 165.5,1528.5 165.5,1531.5 168.5,1533" fill="#231f20"/>
</g>
<text transform="translate(327.58,1312.3) scale(0.9466,1)" font-size="38.08">INCENSE</text>
<text transform="translate(355.43,1356.3) scale(0.9083,1)" font-size="38.08">ALTAR</text>
<rect x="381.9" y="1389.7" width="56.7" height="43.1" fill="#ffee4a"/>
<rect x="381.9" y="1432.8" width="56.7" height="248" fill="#fff5a1"/>
<rect x="381.9" y="1680.8" width="56.7" height="44.2" fill="#ffee4a"/>
<line x1="384.9" y1="1432.8" x2="435.6" y2="1432.8" stroke="#fff" stroke-width="3.2" stroke-linecap="round" stroke-dasharray="0.3 5.6"/>
<line x1="384.9" y1="1557.3" x2="435.6" y2="1557.3" stroke="#fff" stroke-width="3.2" stroke-linecap="round" stroke-dasharray="0.3 5.6"/>
<line x1="384.9" y1="1680.8" x2="435.6" y2="1680.8" stroke="#fff" stroke-width="3.2" stroke-linecap="round" stroke-dasharray="0.3 5.6"/>
<g>
<path d="M397,1446.7 L424,1446.7 L424,1511.1 L419.7,1501.6 L401.6,1501.6 L397,1511.1 Z" fill="#ffda45" stroke="#231f20" stroke-width="9.5" stroke-linejoin="round" paint-order="stroke"/>
<path d="M401.6,1501.6 C400,1508 399.8,1512 400.2,1516.4 C400.5,1521 401,1524 402,1527.1 C403,1531 404,1535 405.5,1537.7 C407,1540 408,1542 409.8,1543.4 C411,1544.5 412,1545.2 413.3,1545.1 C415,1545 416.5,1544 416.9,1542.7 C417.8,1539 417.5,1536 417.6,1532.7 C417.7,1529 417,1526 417.2,1523.5 C417.4,1520 418,1518 418.3,1516.4 C419,1511 419.5,1506 419.7,1501.6 Z" fill="#231f20"/>
<path d="M403.4,1502.3 C403,1508 402.8,1512 403.1,1516.4 C403.5,1520 404,1524 404.8,1527.1 C405.8,1531 407,1533.5 408.4,1535.6 C410,1538 411.5,1539.5 413.3,1540.5 C414,1538 414.6,1536 414.7,1534.1 C414.8,1530 414,1527 414,1523.5 C414,1519 415.5,1516 416.2,1512.9 C416.8,1509 416.9,1505 416.9,1502.3 Z" fill="#8e8f94"/>
<path d="M406,1506 C407,1512 406,1518 408,1524 C409.5,1529 411,1533 412.5,1536" fill="none" stroke="#a9b4cf" stroke-width="1.2" stroke-dasharray="2 2"/>
</g>
<g transform="translate(0,3114.6) scale(1,-1)">
<path d="M397,1446.7 L424,1446.7 L424,1511.1 L419.7,1501.6 L401.6,1501.6 L397,1511.1 Z" fill="#ffda45" stroke="#231f20" stroke-width="9.5" stroke-linejoin="round" paint-order="stroke"/>
<path d="M401.6,1501.6 C400,1508 399.8,1512 400.2,1516.4 C400.5,1521 401,1524 402,1527.1 C403,1531 404,1535 405.5,1537.7 C407,1540 408,1542 409.8,1543.4 C411,1544.5 412,1545.2 413.3,1545.1 C415,1545 416.5,1544 416.9,1542.7 C417.8,1539 417.5,1536 417.6,1532.7 C417.7,1529 417,1526 417.2,1523.5 C417.4,1520 418,1518 418.3,1516.4 C419,1511 419.5,1506 419.7,1501.6 Z" fill="#231f20"/>
<path d="M403.4,1502.3 C403,1508 402.8,1512 403.1,1516.4 C403.5,1520 404,1524 404.8,1527.1 C405.8,1531 407,1533.5 408.4,1535.6 C410,1538 411.5,1539.5 413.3,1540.5 C414,1538 414.6,1536 414.7,1534.1 C414.8,1530 414,1527 414,1523.5 C414,1519 415.5,1516 416.2,1512.9 C416.8,1509 416.9,1505 416.9,1502.3 Z" fill="#8e8f94"/>
<path d="M406,1506 C407,1512 406,1518 408,1524 C409.5,1529 411,1533 412.5,1536" fill="none" stroke="#a9b4cf" stroke-width="1.2" stroke-dasharray="2 2"/>
</g>
<text transform="translate(603.47,1369.3) scale(0.9384,1)" font-size="38.08">BREAD</text>
<text transform="translate(610.22,1413) scale(0.9334,1)" font-size="38.08">TABLE</text>
<rect x="622.5" y="1444.4" width="85.5" height="43.6" fill="#ffee4a"/>
<rect x="622.5" y="1488" width="85.5" height="139.3" fill="#fff5a1"/>
<rect x="622.5" y="1627.3" width="85.5" height="43.4" fill="#ffee4a"/>
<line x1="625.5" y1="1488" x2="705" y2="1488" stroke="#fff" stroke-width="3.2" stroke-linecap="round" stroke-dasharray="0.3 5.6"/>
<line x1="625.5" y1="1557.6" x2="705" y2="1557.6" stroke="#fff" stroke-width="3.2" stroke-linecap="round" stroke-dasharray="0.3 5.6"/>
<line x1="625.5" y1="1627.3" x2="705" y2="1627.3" stroke="#fff" stroke-width="3.2" stroke-linecap="round" stroke-dasharray="0.3 5.6"/>
<g>
<path d="M638,1500.5 H643.6 V1531.7 H687.7 V1500.5 H693.3 V1542.1 H638 Z" fill="#ffda45" stroke="#231f20" stroke-width="8" stroke-linejoin="round" paint-order="stroke"/>
</g>
<g transform="translate(0,3115.2) scale(1,-1)">
<path d="M638,1500.5 H643.6 V1531.7 H687.7 V1500.5 H693.3 V1542.1 H638 Z" fill="#ffda45" stroke="#231f20" stroke-width="8" stroke-linejoin="round" paint-order="stroke"/>
</g>
<text transform="translate(839.75,1356.3) scale(0.9439,1)" font-size="38.08">LAMPSTAND</text>
<rect x="892.2" y="1388.7" width="113.1" height="43.1" fill="#ffee4a"/>
<rect x="892.2" y="1431.8" width="113.1" height="247.6" fill="#fff5a1"/>
<rect x="892.2" y="1679.4" width="113.1" height="43.7" fill="#ffee4a"/>
<line x1="895.2" y1="1431.8" x2="1002.3" y2="1431.8" stroke="#fff" stroke-width="3.2" stroke-linecap="round" stroke-dasharray="0.3 5.6"/>
<line x1="895.2" y1="1555.8" x2="1002.3" y2="1555.8" stroke="#fff" stroke-width="3.2" stroke-linecap="round" stroke-dasharray="0.3 5.6"/>
<line x1="895.2" y1="1679.4" x2="1002.3" y2="1679.4" stroke="#fff" stroke-width="3.2" stroke-linecap="round" stroke-dasharray="0.3 5.6"/>
<g>
<path d="M930.5,1441.5 L967,1441.5 C969,1452 962,1460 955,1461 L955,1474.3 L969,1474.3 C979,1475 987,1481 991,1489 C994.5,1496 995.5,1506 995.5,1530 L902.5,1530 C902.5,1506 903.5,1496 907,1489 C911,1481 919,1475 929,1474.3 L942.5,1474.3 L942.5,1461 C935.5,1460 928.5,1452 930.5,1441.5 Z" fill="#231f20"/>
<ellipse cx="912" cy="1530" rx="6.8" ry="11.3" fill="#231f20"/>
<ellipse cx="924.32" cy="1530" rx="6.8" ry="11.3" fill="#231f20"/>
<ellipse cx="936.64" cy="1530" rx="6.8" ry="11.3" fill="#231f20"/>
<ellipse cx="948.96" cy="1530" rx="6.8" ry="11.3" fill="#231f20"/>
<ellipse cx="961.28" cy="1530" rx="6.8" ry="11.3" fill="#231f20"/>
<ellipse cx="973.6" cy="1530" rx="6.8" ry="11.3" fill="#231f20"/>
<ellipse cx="985.92" cy="1530" rx="6.8" ry="11.3" fill="#231f20"/>
<path d="M935,1444.5 L962.5,1444.5 C962,1452 956,1458.5 948.8,1458.8 C941.5,1458.5 935.5,1452 935,1444.5 Z" fill="#ffda45"/>
<g fill="none" stroke="#ffda45" stroke-width="3.4"><line x1="948.9" y1="1457" x2="948.9" y2="1522"/><path d="M912,1521 L912,1508 C912,1492 928,1480 948.9,1480 C970,1480 986,1492 986,1508 L986,1521"/><path d="M923.8,1521 L923.8,1510 C923.8,1499 935,1491.5 948.9,1491.5 C963,1491.5 974,1499 974,1510 L974,1521"/><path d="M936.4,1521 L936.4,1513 C936.4,1507 942,1502.5 948.9,1502.5 C956,1502.5 961.4,1507 961.4,1513 L961.4,1521"/></g>
<path d="M907,1523.5 C907,1519.5 909.5,1517.5 912,1517.5 C914.5,1517.5 917,1519.5 917,1523.5 Z" fill="#ffda45"/>
<path d="M907.5,1523.5 L916.5,1523.5 C917,1530 914,1536 912,1538 C910,1536 907,1530 907.5,1523.5 Z" fill="#ed1c2e"/>
<path d="M910.7,1523.5 L913.3,1523.5 L912,1528 Z" fill="#ffee4a"/>
<path d="M919.32,1523.5 C919.32,1519.5 921.82,1517.5 924.32,1517.5 C926.82,1517.5 929.32,1519.5 929.32,1523.5 Z" fill="#ffda45"/>
<path d="M919.82,1523.5 L928.82,1523.5 C929.32,1530 926.32,1536 924.32,1538 C922.32,1536 919.32,1530 919.82,1523.5 Z" fill="#ed1c2e"/>
<path d="M923.02,1523.5 L925.62,1523.5 L924.32,1528 Z" fill="#ffee4a"/>
<path d="M931.64,1523.5 C931.64,1519.5 934.14,1517.5 936.64,1517.5 C939.14,1517.5 941.64,1519.5 941.64,1523.5 Z" fill="#ffda45"/>
<path d="M932.14,1523.5 L941.14,1523.5 C941.64,1530 938.64,1536 936.64,1538 C934.64,1536 931.64,1530 932.14,1523.5 Z" fill="#ed1c2e"/>
<path d="M935.34,1523.5 L937.94,1523.5 L936.64,1528 Z" fill="#ffee4a"/>
<path d="M943.96,1523.5 C943.96,1519.5 946.46,1517.5 948.96,1517.5 C951.46,1517.5 953.96,1519.5 953.96,1523.5 Z" fill="#ffda45"/>
<path d="M944.46,1523.5 L953.46,1523.5 C953.96,1530 950.96,1536 948.96,1538 C946.96,1536 943.96,1530 944.46,1523.5 Z" fill="#ed1c2e"/>
<path d="M947.66,1523.5 L950.26,1523.5 L948.96,1528 Z" fill="#ffee4a"/>
<path d="M956.28,1523.5 C956.28,1519.5 958.78,1517.5 961.28,1517.5 C963.78,1517.5 966.28,1519.5 966.28,1523.5 Z" fill="#ffda45"/>
<path d="M956.78,1523.5 L965.78,1523.5 C966.28,1530 963.28,1536 961.28,1538 C959.28,1536 956.28,1530 956.78,1523.5 Z" fill="#ed1c2e"/>
<path d="M959.98,1523.5 L962.58,1523.5 L961.28,1528 Z" fill="#ffee4a"/>
<path d="M968.6,1523.5 C968.6,1519.5 971.1,1517.5 973.6,1517.5 C976.1,1517.5 978.6,1519.5 978.6,1523.5 Z" fill="#ffda45"/>
<path d="M969.1,1523.5 L978.1,1523.5 C978.6,1530 975.6,1536 973.6,1538 C971.6,1536 968.6,1530 969.1,1523.5 Z" fill="#ed1c2e"/>
<path d="M972.3,1523.5 L974.9,1523.5 L973.6,1528 Z" fill="#ffee4a"/>
<path d="M980.92,1523.5 C980.92,1519.5 983.42,1517.5 985.92,1517.5 C988.42,1517.5 990.92,1519.5 990.92,1523.5 Z" fill="#ffda45"/>
<path d="M981.42,1523.5 L990.42,1523.5 C990.92,1530 987.92,1536 985.92,1538 C983.92,1536 980.92,1530 981.42,1523.5 Z" fill="#ed1c2e"/>
<path d="M984.62,1523.5 L987.22,1523.5 L985.92,1528 Z" fill="#ffee4a"/>
</g>
<g transform="translate(0,3111.6) scale(1,-1)">
<path d="M930.5,1441.5 L967,1441.5 C969,1452 962,1460 955,1461 L955,1474.3 L969,1474.3 C979,1475 987,1481 991,1489 C994.5,1496 995.5,1506 995.5,1530 L902.5,1530 C902.5,1506 903.5,1496 907,1489 C911,1481 919,1475 929,1474.3 L942.5,1474.3 L942.5,1461 C935.5,1460 928.5,1452 930.5,1441.5 Z" fill="#231f20"/>
<ellipse cx="912" cy="1530" rx="6.8" ry="11.3" fill="#231f20"/>
<ellipse cx="924.32" cy="1530" rx="6.8" ry="11.3" fill="#231f20"/>
<ellipse cx="936.64" cy="1530" rx="6.8" ry="11.3" fill="#231f20"/>
<ellipse cx="948.96" cy="1530" rx="6.8" ry="11.3" fill="#231f20"/>
<ellipse cx="961.28" cy="1530" rx="6.8" ry="11.3" fill="#231f20"/>
<ellipse cx="973.6" cy="1530" rx="6.8" ry="11.3" fill="#231f20"/>
<ellipse cx="985.92" cy="1530" rx="6.8" ry="11.3" fill="#231f20"/>
<path d="M935,1444.5 L962.5,1444.5 C962,1452 956,1458.5 948.8,1458.8 C941.5,1458.5 935.5,1452 935,1444.5 Z" fill="#ffda45"/>
<g fill="none" stroke="#ffda45" stroke-width="3.4"><line x1="948.9" y1="1457" x2="948.9" y2="1522"/><path d="M912,1521 L912,1508 C912,1492 928,1480 948.9,1480 C970,1480 986,1492 986,1508 L986,1521"/><path d="M923.8,1521 L923.8,1510 C923.8,1499 935,1491.5 948.9,1491.5 C963,1491.5 974,1499 974,1510 L974,1521"/><path d="M936.4,1521 L936.4,1513 C936.4,1507 942,1502.5 948.9,1502.5 C956,1502.5 961.4,1507 961.4,1513 L961.4,1521"/></g>
<path d="M907,1523.5 C907,1519.5 909.5,1517.5 912,1517.5 C914.5,1517.5 917,1519.5 917,1523.5 Z" fill="#ffda45"/>
<path d="M907.5,1523.5 L916.5,1523.5 C917,1530 914,1536 912,1538 C910,1536 907,1530 907.5,1523.5 Z" fill="#ed1c2e"/>
<path d="M910.7,1523.5 L913.3,1523.5 L912,1528 Z" fill="#ffee4a"/>
<path d="M919.32,1523.5 C919.32,1519.5 921.82,1517.5 924.32,1517.5 C926.82,1517.5 929.32,1519.5 929.32,1523.5 Z" fill="#ffda45"/>
<path d="M919.82,1523.5 L928.82,1523.5 C929.32,1530 926.32,1536 924.32,1538 C922.32,1536 919.32,1530 919.82,1523.5 Z" fill="#ed1c2e"/>
<path d="M923.02,1523.5 L925.62,1523.5 L924.32,1528 Z" fill="#ffee4a"/>
<path d="M931.64,1523.5 C931.64,1519.5 934.14,1517.5 936.64,1517.5 C939.14,1517.5 941.64,1519.5 941.64,1523.5 Z" fill="#ffda45"/>
<path d="M932.14,1523.5 L941.14,1523.5 C941.64,1530 938.64,1536 936.64,1538 C934.64,1536 931.64,1530 932.14,1523.5 Z" fill="#ed1c2e"/>
<path d="M935.34,1523.5 L937.94,1523.5 L936.64,1528 Z" fill="#ffee4a"/>
<path d="M943.96,1523.5 C943.96,1519.5 946.46,1517.5 948.96,1517.5 C951.46,1517.5 953.96,1519.5 953.96,1523.5 Z" fill="#ffda45"/>
<path d="M944.46,1523.5 L953.46,1523.5 C953.96,1530 950.96,1536 948.96,1538 C946.96,1536 943.96,1530 944.46,1523.5 Z" fill="#ed1c2e"/>
<path d="M947.66,1523.5 L950.26,1523.5 L948.96,1528 Z" fill="#ffee4a"/>
<path d="M956.28,1523.5 C956.28,1519.5 958.78,1517.5 961.28,1517.5 C963.78,1517.5 966.28,1519.5 966.28,1523.5 Z" fill="#ffda45"/>
<path d="M956.78,1523.5 L965.78,1523.5 C966.28,1530 963.28,1536 961.28,1538 C959.28,1536 956.28,1530 956.78,1523.5 Z" fill="#ed1c2e"/>
<path d="M959.98,1523.5 L962.58,1523.5 L961.28,1528 Z" fill="#ffee4a"/>
<path d="M968.6,1523.5 C968.6,1519.5 971.1,1517.5 973.6,1517.5 C976.1,1517.5 978.6,1519.5 978.6,1523.5 Z" fill="#ffda45"/>
<path d="M969.1,1523.5 L978.1,1523.5 C978.6,1530 975.6,1536 973.6,1538 C971.6,1536 968.6,1530 969.1,1523.5 Z" fill="#ed1c2e"/>
<path d="M972.3,1523.5 L974.9,1523.5 L973.6,1528 Z" fill="#ffee4a"/>
<path d="M980.92,1523.5 C980.92,1519.5 983.42,1517.5 985.92,1517.5 C988.42,1517.5 990.92,1519.5 990.92,1523.5 Z" fill="#ffda45"/>
<path d="M981.42,1523.5 L990.42,1523.5 C990.92,1530 987.92,1536 985.92,1538 C983.92,1536 980.92,1530 981.42,1523.5 Z" fill="#ed1c2e"/>
<path d="M984.62,1523.5 L987.22,1523.5 L985.92,1528 Z" fill="#ffee4a"/>
</g>
<text transform="translate(1274.89,1407.6) scale(0.9632,1)" font-size="38.08">BASIN</text>
<rect x="1301.2" y="1444.5" width="56.9" height="56.9" fill="#ffee4a"/>
<rect x="1301.2" y="1668.4" width="56.9" height="57" fill="#ffee4a"/>
<rect x="1189.1" y="1556.8" width="56.9" height="55.8" fill="#ffee4a"/>
<rect x="1413.5" y="1556.8" width="56.9" height="55.8" fill="#ffee4a"/>
<polygon points="1301.2,1501.4 1358.1,1501.4 1379.3,1535.1 1413.5,1556.8 1413.5,1612.6 1379.3,1634.7 1358.1,1668.4 1301.2,1668.4 1280.2,1634.7 1246,1612.6 1246,1556.8 1280.2,1535.1" fill="#fff5a1"/>
<line x1="1303" y1="1501.4" x2="1357" y2="1501.4" stroke="#fff" stroke-width="3.2" stroke-linecap="round" stroke-dasharray="0.3 5.6"/>
<line x1="1303" y1="1668.4" x2="1357" y2="1668.4" stroke="#fff" stroke-width="3.2" stroke-linecap="round" stroke-dasharray="0.3 5.6"/>
<line x1="1246" y1="1559" x2="1246" y2="1611" stroke="#fff" stroke-width="3.2" stroke-linecap="round" stroke-dasharray="0.3 5.6"/>
<line x1="1413.5" y1="1559" x2="1413.5" y2="1611" stroke="#fff" stroke-width="3.2" stroke-linecap="round" stroke-dasharray="0.3 5.6"/>
<line x1="1282" y1="1535.1" x2="1378" y2="1535.1" stroke="#fff" stroke-width="3.2" stroke-linecap="round" stroke-dasharray="0.3 5.6"/>
<line x1="1282" y1="1634.7" x2="1378" y2="1634.7" stroke="#fff" stroke-width="3.2" stroke-linecap="round" stroke-dasharray="0.3 5.6"/>
<line x1="1280.2" y1="1537" x2="1280.2" y2="1633" stroke="#fff" stroke-width="3.2" stroke-linecap="round" stroke-dasharray="0.3 5.6"/>
<line x1="1379.3" y1="1537" x2="1379.3" y2="1633" stroke="#fff" stroke-width="3.2" stroke-linecap="round" stroke-dasharray="0.3 5.6"/>
<circle cx="1329.9" cy="1585.3" r="43.1" fill="#231f20"/>
<circle cx="1329.9" cy="1585.3" r="36.4" fill="#f26e4f"/>
<circle cx="1329.9" cy="1585.3" r="29.2" fill="#231f20"/>
<circle cx="1329.9" cy="1585.3" r="22.2" fill="#7aafdb"/>
<text transform="translate(1651.23,1415.7) scale(0.9106,1)" font-size="38.08">ALTAR FIRE</text>
<rect x="1654" y="1451.3" width="190" height="189.6" fill="#fff5a1"/>
<polygon points="1654,1640.9 1748.9,1640.9 1701.1,1684" fill="#414042"/>
<polygon points="1748.9,1640.9 1844,1640.9 1795.6,1684" fill="#414042"/>
<line x1="1748.9" y1="1455" x2="1748.9" y2="1637" stroke="#fff" stroke-width="3.2" stroke-linecap="round" stroke-dasharray="0.3 5.6"/>
<line x1="1657" y1="1640.9" x2="1841" y2="1640.9" stroke="#fff" stroke-width="3.2" stroke-linecap="round" stroke-dasharray="0.3 5.6"/>
<g><path d="M1681.5,1640.9 C1671,1630 1664,1618 1662,1604 C1660,1592 1660,1583 1660.6,1576.4 C1663,1581 1667,1587 1673.1,1589.5 C1678,1589 1679,1585 1677.9,1582.3 C1677,1577 1673,1573 1670,1567 C1667,1561 1666,1553 1667.1,1546.5 C1667.5,1539 1671,1531 1675.5,1526.2 C1674,1531 1674.5,1536 1677,1540 C1680,1544 1686,1545.5 1691,1545.3 C1687,1542 1684,1538 1682.5,1532 C1680.5,1525 1680,1516 1681,1508 C1682,1501 1684,1495 1686.2,1491.6 C1686.5,1497 1688,1504 1692.2,1509.5 C1694,1511 1697,1511 1699,1509 C1703,1503 1704.5,1494 1704.1,1486.8 C1704,1478 1701,1466 1698.2,1460 C1704,1464 1709,1470 1711.5,1478 C1715,1488 1715.5,1500 1716,1510 C1716.5,1517 1719,1523 1723.9,1526.8 C1727,1525 1728.5,1517 1728.6,1511.3 C1732,1516 1733.5,1524 1733,1532 C1732,1542 1728,1551 1726.8,1559.7 C1725.5,1566 1726,1572 1728,1576 C1730,1580 1734,1581 1736.5,1578.5 C1738.5,1576 1739.5,1573 1740,1570.4 C1742.5,1578 1743,1590 1742,1600 C1740,1617 1735,1630 1729.2,1640.9 Z" fill="#ed1c2e"/><path d="M1695.8,1563.2 C1692.5,1566 1692,1570 1692.2,1573 C1693,1585 1698,1598 1700.6,1612.2 C1702,1620 1702.8,1628 1702.4,1634.9 C1707,1632 1711,1628 1713.5,1621 C1717,1612 1717.5,1600 1717,1590 C1716,1577 1710,1563 1704.1,1552.5 C1706,1558 1708,1565 1708.3,1572 C1708.5,1578 1707,1585 1704.1,1585.9 C1701,1586 1698.5,1582 1697,1578 C1695.5,1573 1695,1567 1695.8,1563.2 Z" fill="#ffee4a"/></g>
<g transform="translate(3497.8,0) scale(-1,1)"><path d="M1681.5,1640.9 C1671,1630 1664,1618 1662,1604 C1660,1592 1660,1583 1660.6,1576.4 C1663,1581 1667,1587 1673.1,1589.5 C1678,1589 1679,1585 1677.9,1582.3 C1677,1577 1673,1573 1670,1567 C1667,1561 1666,1553 1667.1,1546.5 C1667.5,1539 1671,1531 1675.5,1526.2 C1674,1531 1674.5,1536 1677,1540 C1680,1544 1686,1545.5 1691,1545.3 C1687,1542 1684,1538 1682.5,1532 C1680.5,1525 1680,1516 1681,1508 C1682,1501 1684,1495 1686.2,1491.6 C1686.5,1497 1688,1504 1692.2,1509.5 C1694,1511 1697,1511 1699,1509 C1703,1503 1704.5,1494 1704.1,1486.8 C1704,1478 1701,1466 1698.2,1460 C1704,1464 1709,1470 1711.5,1478 C1715,1488 1715.5,1500 1716,1510 C1716.5,1517 1719,1523 1723.9,1526.8 C1727,1525 1728.5,1517 1728.6,1511.3 C1732,1516 1733.5,1524 1733,1532 C1732,1542 1728,1551 1726.8,1559.7 C1725.5,1566 1726,1572 1728,1576 C1730,1580 1734,1581 1736.5,1578.5 C1738.5,1576 1739.5,1573 1740,1570.4 C1742.5,1578 1743,1590 1742,1600 C1740,1617 1735,1630 1729.2,1640.9 Z" fill="#ed1c2e"/><path d="M1695.8,1563.2 C1692.5,1566 1692,1570 1692.2,1573 C1693,1585 1698,1598 1700.6,1612.2 C1702,1620 1702.8,1628 1702.4,1634.9 C1707,1632 1711,1628 1713.5,1621 C1717,1612 1717.5,1600 1717,1590 C1716,1577 1710,1563 1704.1,1552.5 C1706,1558 1708,1565 1708.3,1572 C1708.5,1578 1707,1585 1704.1,1585.9 C1701,1586 1698.5,1582 1697,1578 C1695.5,1573 1695,1567 1695.8,1563.2 Z" fill="#ffee4a"/></g>
<text transform="translate(2197.43,1473.9) scale(0.9092,1)" font-size="38.08">ALTAR</text>
<rect x="2027.8" y="1560" width="99.3" height="48.8" fill="#fff5a1" rx="3"/>
<rect x="2226" y="1560" width="99.3" height="48.8" fill="#fff5a1" rx="3"/>
<rect x="2027.8" y="1506.3" width="445.9" height="59.6" fill="#231f20" rx="2"/>
<rect x="2033.6" y="1512.2" width="87.2" height="8.1" fill="#f26e4f"/>
<rect x="2033.6" y="1527.6" width="87.2" height="17" fill="#cd5d3e"/>
<rect x="2033.6" y="1551.9" width="87.2" height="8.1" fill="#f26e4f"/>
<rect x="2132.9" y="1512.2" width="86.2" height="8.1" fill="#f26e4f"/>
<rect x="2132.9" y="1527.6" width="86.2" height="17" fill="#cd5d3e"/>
<rect x="2132.9" y="1551.9" width="86.2" height="8.1" fill="#f26e4f"/>
<rect x="2232" y="1512.2" width="86.4" height="8.1" fill="#f26e4f"/>
<rect x="2232" y="1527.6" width="86.4" height="17" fill="#cd5d3e"/>
<rect x="2232" y="1551.9" width="86.4" height="8.1" fill="#f26e4f"/>
<rect x="2331.3" y="1512.2" width="86.4" height="8.1" fill="#f26e4f"/>
<rect x="2331.3" y="1527.6" width="86.4" height="17" fill="#cd5d3e"/>
<rect x="2331.3" y="1551.9" width="86.4" height="8.1" fill="#f26e4f"/>
<rect x="2430.2" y="1512.2" width="37.7" height="47.8" fill="#fefefe"/>
<line x1="2126.7" y1="1510" x2="2126.7" y2="1562" stroke="#fff" stroke-width="3.2" stroke-linecap="round" stroke-dasharray="0.3 5.6"/>
<line x1="2226" y1="1510" x2="2226" y2="1562" stroke="#fff" stroke-width="3.2" stroke-linecap="round" stroke-dasharray="0.3 5.6"/>
<line x1="2325.1" y1="1510" x2="2325.1" y2="1562" stroke="#fff" stroke-width="3.2" stroke-linecap="round" stroke-dasharray="0.3 5.6"/>
<line x1="2424" y1="1510" x2="2424" y2="1562" stroke="#fff" stroke-width="3.2" stroke-linecap="round" stroke-dasharray="0.3 5.6"/>
<line x1="2030" y1="1565.9" x2="2125" y2="1565.9" stroke="#fff" stroke-width="3.2" stroke-linecap="round" stroke-dasharray="0.3 5.6"/>
<line x1="2229" y1="1565.9" x2="2323" y2="1565.9" stroke="#fff" stroke-width="3.2" stroke-linecap="round" stroke-dasharray="0.3 5.6"/>
</svg>
</body></html>
